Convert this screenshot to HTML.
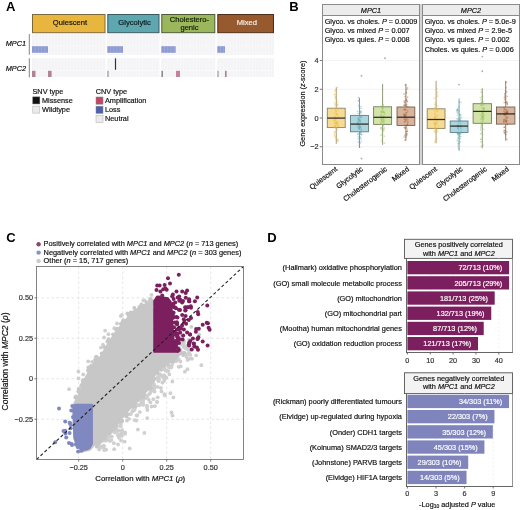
<!DOCTYPE html>
<html><head><meta charset="utf-8"><style>
html,body{margin:0;padding:0;background:#fff;width:520px;height:510px;overflow:hidden}
svg{display:block;will-change:transform}
text{font-family:"Liberation Sans",sans-serif}
</style></head><body>
<svg width="520" height="510" viewBox="0 0 520 510">
<rect width="520" height="510" fill="#fff"/>
<text x="6.0" y="11.4" font-size="13" font-weight="bold" fill="#000">A</text>
<text x="289.2" y="11.3" font-size="13" font-weight="bold" fill="#000">B</text>
<text x="6.3" y="241.6" font-size="13" font-weight="bold" fill="#000">C</text>
<text x="267.2" y="242.0" font-size="13" font-weight="bold" fill="#000">D</text>
<rect x="32.5" y="14.5" width="72.5" height="18.2" fill="#e8b63e" stroke="#7d6a3a" stroke-width="1"/>
<text x="69.95" y="25.4" font-size="7.6" text-anchor="middle" fill="#111" stroke="#111" stroke-width="0.18" style="" >Quiescent</text>
<rect x="32" y="34" width="73.5" height="11.799999999999997" fill="#f4f4f6"/>
<line x1="35.20" y1="34" x2="35.20" y2="45.8" stroke="#fafafb" stroke-width="0.6"/>
<line x1="38.40" y1="34" x2="38.40" y2="45.8" stroke="#fafafb" stroke-width="0.6"/>
<line x1="41.60" y1="34" x2="41.60" y2="45.8" stroke="#fafafb" stroke-width="0.6"/>
<line x1="44.80" y1="34" x2="44.80" y2="45.8" stroke="#fafafb" stroke-width="0.6"/>
<line x1="48.00" y1="34" x2="48.00" y2="45.8" stroke="#fafafb" stroke-width="0.6"/>
<line x1="51.20" y1="34" x2="51.20" y2="45.8" stroke="#fafafb" stroke-width="0.6"/>
<line x1="54.40" y1="34" x2="54.40" y2="45.8" stroke="#fafafb" stroke-width="0.6"/>
<line x1="57.60" y1="34" x2="57.60" y2="45.8" stroke="#fafafb" stroke-width="0.6"/>
<line x1="60.80" y1="34" x2="60.80" y2="45.8" stroke="#fafafb" stroke-width="0.6"/>
<line x1="64.00" y1="34" x2="64.00" y2="45.8" stroke="#fafafb" stroke-width="0.6"/>
<line x1="67.20" y1="34" x2="67.20" y2="45.8" stroke="#fafafb" stroke-width="0.6"/>
<line x1="70.40" y1="34" x2="70.40" y2="45.8" stroke="#fafafb" stroke-width="0.6"/>
<line x1="73.60" y1="34" x2="73.60" y2="45.8" stroke="#fafafb" stroke-width="0.6"/>
<line x1="76.80" y1="34" x2="76.80" y2="45.8" stroke="#fafafb" stroke-width="0.6"/>
<line x1="80.00" y1="34" x2="80.00" y2="45.8" stroke="#fafafb" stroke-width="0.6"/>
<line x1="83.20" y1="34" x2="83.20" y2="45.8" stroke="#fafafb" stroke-width="0.6"/>
<line x1="86.40" y1="34" x2="86.40" y2="45.8" stroke="#fafafb" stroke-width="0.6"/>
<line x1="89.60" y1="34" x2="89.60" y2="45.8" stroke="#fafafb" stroke-width="0.6"/>
<line x1="92.80" y1="34" x2="92.80" y2="45.8" stroke="#fafafb" stroke-width="0.6"/>
<line x1="96.00" y1="34" x2="96.00" y2="45.8" stroke="#fafafb" stroke-width="0.6"/>
<line x1="99.20" y1="34" x2="99.20" y2="45.8" stroke="#fafafb" stroke-width="0.6"/>
<line x1="102.40" y1="34" x2="102.40" y2="45.8" stroke="#fafafb" stroke-width="0.6"/>
<rect x="32" y="46.2" width="73.5" height="6.599999999999994" fill="#f4f4f6"/>
<line x1="35.20" y1="46.2" x2="35.20" y2="52.8" stroke="#fafafb" stroke-width="0.6"/>
<line x1="38.40" y1="46.2" x2="38.40" y2="52.8" stroke="#fafafb" stroke-width="0.6"/>
<line x1="41.60" y1="46.2" x2="41.60" y2="52.8" stroke="#fafafb" stroke-width="0.6"/>
<line x1="44.80" y1="46.2" x2="44.80" y2="52.8" stroke="#fafafb" stroke-width="0.6"/>
<line x1="48.00" y1="46.2" x2="48.00" y2="52.8" stroke="#fafafb" stroke-width="0.6"/>
<line x1="51.20" y1="46.2" x2="51.20" y2="52.8" stroke="#fafafb" stroke-width="0.6"/>
<line x1="54.40" y1="46.2" x2="54.40" y2="52.8" stroke="#fafafb" stroke-width="0.6"/>
<line x1="57.60" y1="46.2" x2="57.60" y2="52.8" stroke="#fafafb" stroke-width="0.6"/>
<line x1="60.80" y1="46.2" x2="60.80" y2="52.8" stroke="#fafafb" stroke-width="0.6"/>
<line x1="64.00" y1="46.2" x2="64.00" y2="52.8" stroke="#fafafb" stroke-width="0.6"/>
<line x1="67.20" y1="46.2" x2="67.20" y2="52.8" stroke="#fafafb" stroke-width="0.6"/>
<line x1="70.40" y1="46.2" x2="70.40" y2="52.8" stroke="#fafafb" stroke-width="0.6"/>
<line x1="73.60" y1="46.2" x2="73.60" y2="52.8" stroke="#fafafb" stroke-width="0.6"/>
<line x1="76.80" y1="46.2" x2="76.80" y2="52.8" stroke="#fafafb" stroke-width="0.6"/>
<line x1="80.00" y1="46.2" x2="80.00" y2="52.8" stroke="#fafafb" stroke-width="0.6"/>
<line x1="83.20" y1="46.2" x2="83.20" y2="52.8" stroke="#fafafb" stroke-width="0.6"/>
<line x1="86.40" y1="46.2" x2="86.40" y2="52.8" stroke="#fafafb" stroke-width="0.6"/>
<line x1="89.60" y1="46.2" x2="89.60" y2="52.8" stroke="#fafafb" stroke-width="0.6"/>
<line x1="92.80" y1="46.2" x2="92.80" y2="52.8" stroke="#fafafb" stroke-width="0.6"/>
<line x1="96.00" y1="46.2" x2="96.00" y2="52.8" stroke="#fafafb" stroke-width="0.6"/>
<line x1="99.20" y1="46.2" x2="99.20" y2="52.8" stroke="#fafafb" stroke-width="0.6"/>
<line x1="102.40" y1="46.2" x2="102.40" y2="52.8" stroke="#fafafb" stroke-width="0.6"/>
<rect x="32" y="53.2" width="73.5" height="1.7999999999999972" fill="#f4f4f6"/>
<line x1="35.20" y1="53.2" x2="35.20" y2="55" stroke="#fafafb" stroke-width="0.6"/>
<line x1="38.40" y1="53.2" x2="38.40" y2="55" stroke="#fafafb" stroke-width="0.6"/>
<line x1="41.60" y1="53.2" x2="41.60" y2="55" stroke="#fafafb" stroke-width="0.6"/>
<line x1="44.80" y1="53.2" x2="44.80" y2="55" stroke="#fafafb" stroke-width="0.6"/>
<line x1="48.00" y1="53.2" x2="48.00" y2="55" stroke="#fafafb" stroke-width="0.6"/>
<line x1="51.20" y1="53.2" x2="51.20" y2="55" stroke="#fafafb" stroke-width="0.6"/>
<line x1="54.40" y1="53.2" x2="54.40" y2="55" stroke="#fafafb" stroke-width="0.6"/>
<line x1="57.60" y1="53.2" x2="57.60" y2="55" stroke="#fafafb" stroke-width="0.6"/>
<line x1="60.80" y1="53.2" x2="60.80" y2="55" stroke="#fafafb" stroke-width="0.6"/>
<line x1="64.00" y1="53.2" x2="64.00" y2="55" stroke="#fafafb" stroke-width="0.6"/>
<line x1="67.20" y1="53.2" x2="67.20" y2="55" stroke="#fafafb" stroke-width="0.6"/>
<line x1="70.40" y1="53.2" x2="70.40" y2="55" stroke="#fafafb" stroke-width="0.6"/>
<line x1="73.60" y1="53.2" x2="73.60" y2="55" stroke="#fafafb" stroke-width="0.6"/>
<line x1="76.80" y1="53.2" x2="76.80" y2="55" stroke="#fafafb" stroke-width="0.6"/>
<line x1="80.00" y1="53.2" x2="80.00" y2="55" stroke="#fafafb" stroke-width="0.6"/>
<line x1="83.20" y1="53.2" x2="83.20" y2="55" stroke="#fafafb" stroke-width="0.6"/>
<line x1="86.40" y1="53.2" x2="86.40" y2="55" stroke="#fafafb" stroke-width="0.6"/>
<line x1="89.60" y1="53.2" x2="89.60" y2="55" stroke="#fafafb" stroke-width="0.6"/>
<line x1="92.80" y1="53.2" x2="92.80" y2="55" stroke="#fafafb" stroke-width="0.6"/>
<line x1="96.00" y1="53.2" x2="96.00" y2="55" stroke="#fafafb" stroke-width="0.6"/>
<line x1="99.20" y1="53.2" x2="99.20" y2="55" stroke="#fafafb" stroke-width="0.6"/>
<line x1="102.40" y1="53.2" x2="102.40" y2="55" stroke="#fafafb" stroke-width="0.6"/>
<rect x="32" y="58.2" width="73.5" height="12.200000000000003" fill="#f4f4f6"/>
<line x1="35.20" y1="58.2" x2="35.20" y2="70.4" stroke="#fafafb" stroke-width="0.6"/>
<line x1="38.40" y1="58.2" x2="38.40" y2="70.4" stroke="#fafafb" stroke-width="0.6"/>
<line x1="41.60" y1="58.2" x2="41.60" y2="70.4" stroke="#fafafb" stroke-width="0.6"/>
<line x1="44.80" y1="58.2" x2="44.80" y2="70.4" stroke="#fafafb" stroke-width="0.6"/>
<line x1="48.00" y1="58.2" x2="48.00" y2="70.4" stroke="#fafafb" stroke-width="0.6"/>
<line x1="51.20" y1="58.2" x2="51.20" y2="70.4" stroke="#fafafb" stroke-width="0.6"/>
<line x1="54.40" y1="58.2" x2="54.40" y2="70.4" stroke="#fafafb" stroke-width="0.6"/>
<line x1="57.60" y1="58.2" x2="57.60" y2="70.4" stroke="#fafafb" stroke-width="0.6"/>
<line x1="60.80" y1="58.2" x2="60.80" y2="70.4" stroke="#fafafb" stroke-width="0.6"/>
<line x1="64.00" y1="58.2" x2="64.00" y2="70.4" stroke="#fafafb" stroke-width="0.6"/>
<line x1="67.20" y1="58.2" x2="67.20" y2="70.4" stroke="#fafafb" stroke-width="0.6"/>
<line x1="70.40" y1="58.2" x2="70.40" y2="70.4" stroke="#fafafb" stroke-width="0.6"/>
<line x1="73.60" y1="58.2" x2="73.60" y2="70.4" stroke="#fafafb" stroke-width="0.6"/>
<line x1="76.80" y1="58.2" x2="76.80" y2="70.4" stroke="#fafafb" stroke-width="0.6"/>
<line x1="80.00" y1="58.2" x2="80.00" y2="70.4" stroke="#fafafb" stroke-width="0.6"/>
<line x1="83.20" y1="58.2" x2="83.20" y2="70.4" stroke="#fafafb" stroke-width="0.6"/>
<line x1="86.40" y1="58.2" x2="86.40" y2="70.4" stroke="#fafafb" stroke-width="0.6"/>
<line x1="89.60" y1="58.2" x2="89.60" y2="70.4" stroke="#fafafb" stroke-width="0.6"/>
<line x1="92.80" y1="58.2" x2="92.80" y2="70.4" stroke="#fafafb" stroke-width="0.6"/>
<line x1="96.00" y1="58.2" x2="96.00" y2="70.4" stroke="#fafafb" stroke-width="0.6"/>
<line x1="99.20" y1="58.2" x2="99.20" y2="70.4" stroke="#fafafb" stroke-width="0.6"/>
<line x1="102.40" y1="58.2" x2="102.40" y2="70.4" stroke="#fafafb" stroke-width="0.6"/>
<rect x="32" y="70.8" width="73.5" height="6.200000000000003" fill="#f4f4f6"/>
<line x1="35.20" y1="70.8" x2="35.20" y2="77" stroke="#fafafb" stroke-width="0.6"/>
<line x1="38.40" y1="70.8" x2="38.40" y2="77" stroke="#fafafb" stroke-width="0.6"/>
<line x1="41.60" y1="70.8" x2="41.60" y2="77" stroke="#fafafb" stroke-width="0.6"/>
<line x1="44.80" y1="70.8" x2="44.80" y2="77" stroke="#fafafb" stroke-width="0.6"/>
<line x1="48.00" y1="70.8" x2="48.00" y2="77" stroke="#fafafb" stroke-width="0.6"/>
<line x1="51.20" y1="70.8" x2="51.20" y2="77" stroke="#fafafb" stroke-width="0.6"/>
<line x1="54.40" y1="70.8" x2="54.40" y2="77" stroke="#fafafb" stroke-width="0.6"/>
<line x1="57.60" y1="70.8" x2="57.60" y2="77" stroke="#fafafb" stroke-width="0.6"/>
<line x1="60.80" y1="70.8" x2="60.80" y2="77" stroke="#fafafb" stroke-width="0.6"/>
<line x1="64.00" y1="70.8" x2="64.00" y2="77" stroke="#fafafb" stroke-width="0.6"/>
<line x1="67.20" y1="70.8" x2="67.20" y2="77" stroke="#fafafb" stroke-width="0.6"/>
<line x1="70.40" y1="70.8" x2="70.40" y2="77" stroke="#fafafb" stroke-width="0.6"/>
<line x1="73.60" y1="70.8" x2="73.60" y2="77" stroke="#fafafb" stroke-width="0.6"/>
<line x1="76.80" y1="70.8" x2="76.80" y2="77" stroke="#fafafb" stroke-width="0.6"/>
<line x1="80.00" y1="70.8" x2="80.00" y2="77" stroke="#fafafb" stroke-width="0.6"/>
<line x1="83.20" y1="70.8" x2="83.20" y2="77" stroke="#fafafb" stroke-width="0.6"/>
<line x1="86.40" y1="70.8" x2="86.40" y2="77" stroke="#fafafb" stroke-width="0.6"/>
<line x1="89.60" y1="70.8" x2="89.60" y2="77" stroke="#fafafb" stroke-width="0.6"/>
<line x1="92.80" y1="70.8" x2="92.80" y2="77" stroke="#fafafb" stroke-width="0.6"/>
<line x1="96.00" y1="70.8" x2="96.00" y2="77" stroke="#fafafb" stroke-width="0.6"/>
<line x1="99.20" y1="70.8" x2="99.20" y2="77" stroke="#fafafb" stroke-width="0.6"/>
<line x1="102.40" y1="70.8" x2="102.40" y2="77" stroke="#fafafb" stroke-width="0.6"/>
<rect x="107.8" y="14.5" width="51.2" height="18.2" fill="#5ea6b0" stroke="#3a5a60" stroke-width="1"/>
<text x="134.6" y="25.4" font-size="7.6" text-anchor="middle" fill="#0a1a1a" stroke="#0a1a1a" stroke-width="0.18" style="" >Glycolytic</text>
<rect x="107.3" y="34" width="52.2" height="11.799999999999997" fill="#f4f4f6"/>
<line x1="110.50" y1="34" x2="110.50" y2="45.8" stroke="#fafafb" stroke-width="0.6"/>
<line x1="113.70" y1="34" x2="113.70" y2="45.8" stroke="#fafafb" stroke-width="0.6"/>
<line x1="116.90" y1="34" x2="116.90" y2="45.8" stroke="#fafafb" stroke-width="0.6"/>
<line x1="120.10" y1="34" x2="120.10" y2="45.8" stroke="#fafafb" stroke-width="0.6"/>
<line x1="123.30" y1="34" x2="123.30" y2="45.8" stroke="#fafafb" stroke-width="0.6"/>
<line x1="126.50" y1="34" x2="126.50" y2="45.8" stroke="#fafafb" stroke-width="0.6"/>
<line x1="129.70" y1="34" x2="129.70" y2="45.8" stroke="#fafafb" stroke-width="0.6"/>
<line x1="132.90" y1="34" x2="132.90" y2="45.8" stroke="#fafafb" stroke-width="0.6"/>
<line x1="136.10" y1="34" x2="136.10" y2="45.8" stroke="#fafafb" stroke-width="0.6"/>
<line x1="139.30" y1="34" x2="139.30" y2="45.8" stroke="#fafafb" stroke-width="0.6"/>
<line x1="142.50" y1="34" x2="142.50" y2="45.8" stroke="#fafafb" stroke-width="0.6"/>
<line x1="145.70" y1="34" x2="145.70" y2="45.8" stroke="#fafafb" stroke-width="0.6"/>
<line x1="148.90" y1="34" x2="148.90" y2="45.8" stroke="#fafafb" stroke-width="0.6"/>
<line x1="152.10" y1="34" x2="152.10" y2="45.8" stroke="#fafafb" stroke-width="0.6"/>
<line x1="155.30" y1="34" x2="155.30" y2="45.8" stroke="#fafafb" stroke-width="0.6"/>
<line x1="158.50" y1="34" x2="158.50" y2="45.8" stroke="#fafafb" stroke-width="0.6"/>
<rect x="107.3" y="46.2" width="52.2" height="6.599999999999994" fill="#f4f4f6"/>
<line x1="110.50" y1="46.2" x2="110.50" y2="52.8" stroke="#fafafb" stroke-width="0.6"/>
<line x1="113.70" y1="46.2" x2="113.70" y2="52.8" stroke="#fafafb" stroke-width="0.6"/>
<line x1="116.90" y1="46.2" x2="116.90" y2="52.8" stroke="#fafafb" stroke-width="0.6"/>
<line x1="120.10" y1="46.2" x2="120.10" y2="52.8" stroke="#fafafb" stroke-width="0.6"/>
<line x1="123.30" y1="46.2" x2="123.30" y2="52.8" stroke="#fafafb" stroke-width="0.6"/>
<line x1="126.50" y1="46.2" x2="126.50" y2="52.8" stroke="#fafafb" stroke-width="0.6"/>
<line x1="129.70" y1="46.2" x2="129.70" y2="52.8" stroke="#fafafb" stroke-width="0.6"/>
<line x1="132.90" y1="46.2" x2="132.90" y2="52.8" stroke="#fafafb" stroke-width="0.6"/>
<line x1="136.10" y1="46.2" x2="136.10" y2="52.8" stroke="#fafafb" stroke-width="0.6"/>
<line x1="139.30" y1="46.2" x2="139.30" y2="52.8" stroke="#fafafb" stroke-width="0.6"/>
<line x1="142.50" y1="46.2" x2="142.50" y2="52.8" stroke="#fafafb" stroke-width="0.6"/>
<line x1="145.70" y1="46.2" x2="145.70" y2="52.8" stroke="#fafafb" stroke-width="0.6"/>
<line x1="148.90" y1="46.2" x2="148.90" y2="52.8" stroke="#fafafb" stroke-width="0.6"/>
<line x1="152.10" y1="46.2" x2="152.10" y2="52.8" stroke="#fafafb" stroke-width="0.6"/>
<line x1="155.30" y1="46.2" x2="155.30" y2="52.8" stroke="#fafafb" stroke-width="0.6"/>
<line x1="158.50" y1="46.2" x2="158.50" y2="52.8" stroke="#fafafb" stroke-width="0.6"/>
<rect x="107.3" y="53.2" width="52.2" height="1.7999999999999972" fill="#f4f4f6"/>
<line x1="110.50" y1="53.2" x2="110.50" y2="55" stroke="#fafafb" stroke-width="0.6"/>
<line x1="113.70" y1="53.2" x2="113.70" y2="55" stroke="#fafafb" stroke-width="0.6"/>
<line x1="116.90" y1="53.2" x2="116.90" y2="55" stroke="#fafafb" stroke-width="0.6"/>
<line x1="120.10" y1="53.2" x2="120.10" y2="55" stroke="#fafafb" stroke-width="0.6"/>
<line x1="123.30" y1="53.2" x2="123.30" y2="55" stroke="#fafafb" stroke-width="0.6"/>
<line x1="126.50" y1="53.2" x2="126.50" y2="55" stroke="#fafafb" stroke-width="0.6"/>
<line x1="129.70" y1="53.2" x2="129.70" y2="55" stroke="#fafafb" stroke-width="0.6"/>
<line x1="132.90" y1="53.2" x2="132.90" y2="55" stroke="#fafafb" stroke-width="0.6"/>
<line x1="136.10" y1="53.2" x2="136.10" y2="55" stroke="#fafafb" stroke-width="0.6"/>
<line x1="139.30" y1="53.2" x2="139.30" y2="55" stroke="#fafafb" stroke-width="0.6"/>
<line x1="142.50" y1="53.2" x2="142.50" y2="55" stroke="#fafafb" stroke-width="0.6"/>
<line x1="145.70" y1="53.2" x2="145.70" y2="55" stroke="#fafafb" stroke-width="0.6"/>
<line x1="148.90" y1="53.2" x2="148.90" y2="55" stroke="#fafafb" stroke-width="0.6"/>
<line x1="152.10" y1="53.2" x2="152.10" y2="55" stroke="#fafafb" stroke-width="0.6"/>
<line x1="155.30" y1="53.2" x2="155.30" y2="55" stroke="#fafafb" stroke-width="0.6"/>
<line x1="158.50" y1="53.2" x2="158.50" y2="55" stroke="#fafafb" stroke-width="0.6"/>
<rect x="107.3" y="58.2" width="52.2" height="12.200000000000003" fill="#f4f4f6"/>
<line x1="110.50" y1="58.2" x2="110.50" y2="70.4" stroke="#fafafb" stroke-width="0.6"/>
<line x1="113.70" y1="58.2" x2="113.70" y2="70.4" stroke="#fafafb" stroke-width="0.6"/>
<line x1="116.90" y1="58.2" x2="116.90" y2="70.4" stroke="#fafafb" stroke-width="0.6"/>
<line x1="120.10" y1="58.2" x2="120.10" y2="70.4" stroke="#fafafb" stroke-width="0.6"/>
<line x1="123.30" y1="58.2" x2="123.30" y2="70.4" stroke="#fafafb" stroke-width="0.6"/>
<line x1="126.50" y1="58.2" x2="126.50" y2="70.4" stroke="#fafafb" stroke-width="0.6"/>
<line x1="129.70" y1="58.2" x2="129.70" y2="70.4" stroke="#fafafb" stroke-width="0.6"/>
<line x1="132.90" y1="58.2" x2="132.90" y2="70.4" stroke="#fafafb" stroke-width="0.6"/>
<line x1="136.10" y1="58.2" x2="136.10" y2="70.4" stroke="#fafafb" stroke-width="0.6"/>
<line x1="139.30" y1="58.2" x2="139.30" y2="70.4" stroke="#fafafb" stroke-width="0.6"/>
<line x1="142.50" y1="58.2" x2="142.50" y2="70.4" stroke="#fafafb" stroke-width="0.6"/>
<line x1="145.70" y1="58.2" x2="145.70" y2="70.4" stroke="#fafafb" stroke-width="0.6"/>
<line x1="148.90" y1="58.2" x2="148.90" y2="70.4" stroke="#fafafb" stroke-width="0.6"/>
<line x1="152.10" y1="58.2" x2="152.10" y2="70.4" stroke="#fafafb" stroke-width="0.6"/>
<line x1="155.30" y1="58.2" x2="155.30" y2="70.4" stroke="#fafafb" stroke-width="0.6"/>
<line x1="158.50" y1="58.2" x2="158.50" y2="70.4" stroke="#fafafb" stroke-width="0.6"/>
<rect x="107.3" y="70.8" width="52.2" height="6.200000000000003" fill="#f4f4f6"/>
<line x1="110.50" y1="70.8" x2="110.50" y2="77" stroke="#fafafb" stroke-width="0.6"/>
<line x1="113.70" y1="70.8" x2="113.70" y2="77" stroke="#fafafb" stroke-width="0.6"/>
<line x1="116.90" y1="70.8" x2="116.90" y2="77" stroke="#fafafb" stroke-width="0.6"/>
<line x1="120.10" y1="70.8" x2="120.10" y2="77" stroke="#fafafb" stroke-width="0.6"/>
<line x1="123.30" y1="70.8" x2="123.30" y2="77" stroke="#fafafb" stroke-width="0.6"/>
<line x1="126.50" y1="70.8" x2="126.50" y2="77" stroke="#fafafb" stroke-width="0.6"/>
<line x1="129.70" y1="70.8" x2="129.70" y2="77" stroke="#fafafb" stroke-width="0.6"/>
<line x1="132.90" y1="70.8" x2="132.90" y2="77" stroke="#fafafb" stroke-width="0.6"/>
<line x1="136.10" y1="70.8" x2="136.10" y2="77" stroke="#fafafb" stroke-width="0.6"/>
<line x1="139.30" y1="70.8" x2="139.30" y2="77" stroke="#fafafb" stroke-width="0.6"/>
<line x1="142.50" y1="70.8" x2="142.50" y2="77" stroke="#fafafb" stroke-width="0.6"/>
<line x1="145.70" y1="70.8" x2="145.70" y2="77" stroke="#fafafb" stroke-width="0.6"/>
<line x1="148.90" y1="70.8" x2="148.90" y2="77" stroke="#fafafb" stroke-width="0.6"/>
<line x1="152.10" y1="70.8" x2="152.10" y2="77" stroke="#fafafb" stroke-width="0.6"/>
<line x1="155.30" y1="70.8" x2="155.30" y2="77" stroke="#fafafb" stroke-width="0.6"/>
<line x1="158.50" y1="70.8" x2="158.50" y2="77" stroke="#fafafb" stroke-width="0.6"/>
<rect x="161.8" y="14.5" width="53.0" height="18.2" fill="#9ab75c" stroke="#4e5a35" stroke-width="1"/>
<text x="189.5" y="21.6" font-size="7.6" text-anchor="middle" fill="#0f1a05" stroke="#0f1a05" stroke-width="0.18" style="" >Cholestero-</text>
<text x="189.5" y="29.8" font-size="7.6" text-anchor="middle" fill="#0f1a05" stroke="#0f1a05" stroke-width="0.18" style="" >genic</text>
<rect x="161.3" y="34" width="54.0" height="11.799999999999997" fill="#f4f4f6"/>
<line x1="164.50" y1="34" x2="164.50" y2="45.8" stroke="#fafafb" stroke-width="0.6"/>
<line x1="167.70" y1="34" x2="167.70" y2="45.8" stroke="#fafafb" stroke-width="0.6"/>
<line x1="170.90" y1="34" x2="170.90" y2="45.8" stroke="#fafafb" stroke-width="0.6"/>
<line x1="174.10" y1="34" x2="174.10" y2="45.8" stroke="#fafafb" stroke-width="0.6"/>
<line x1="177.30" y1="34" x2="177.30" y2="45.8" stroke="#fafafb" stroke-width="0.6"/>
<line x1="180.50" y1="34" x2="180.50" y2="45.8" stroke="#fafafb" stroke-width="0.6"/>
<line x1="183.70" y1="34" x2="183.70" y2="45.8" stroke="#fafafb" stroke-width="0.6"/>
<line x1="186.90" y1="34" x2="186.90" y2="45.8" stroke="#fafafb" stroke-width="0.6"/>
<line x1="190.10" y1="34" x2="190.10" y2="45.8" stroke="#fafafb" stroke-width="0.6"/>
<line x1="193.30" y1="34" x2="193.30" y2="45.8" stroke="#fafafb" stroke-width="0.6"/>
<line x1="196.50" y1="34" x2="196.50" y2="45.8" stroke="#fafafb" stroke-width="0.6"/>
<line x1="199.70" y1="34" x2="199.70" y2="45.8" stroke="#fafafb" stroke-width="0.6"/>
<line x1="202.90" y1="34" x2="202.90" y2="45.8" stroke="#fafafb" stroke-width="0.6"/>
<line x1="206.10" y1="34" x2="206.10" y2="45.8" stroke="#fafafb" stroke-width="0.6"/>
<line x1="209.30" y1="34" x2="209.30" y2="45.8" stroke="#fafafb" stroke-width="0.6"/>
<line x1="212.50" y1="34" x2="212.50" y2="45.8" stroke="#fafafb" stroke-width="0.6"/>
<rect x="161.3" y="46.2" width="54.0" height="6.599999999999994" fill="#f4f4f6"/>
<line x1="164.50" y1="46.2" x2="164.50" y2="52.8" stroke="#fafafb" stroke-width="0.6"/>
<line x1="167.70" y1="46.2" x2="167.70" y2="52.8" stroke="#fafafb" stroke-width="0.6"/>
<line x1="170.90" y1="46.2" x2="170.90" y2="52.8" stroke="#fafafb" stroke-width="0.6"/>
<line x1="174.10" y1="46.2" x2="174.10" y2="52.8" stroke="#fafafb" stroke-width="0.6"/>
<line x1="177.30" y1="46.2" x2="177.30" y2="52.8" stroke="#fafafb" stroke-width="0.6"/>
<line x1="180.50" y1="46.2" x2="180.50" y2="52.8" stroke="#fafafb" stroke-width="0.6"/>
<line x1="183.70" y1="46.2" x2="183.70" y2="52.8" stroke="#fafafb" stroke-width="0.6"/>
<line x1="186.90" y1="46.2" x2="186.90" y2="52.8" stroke="#fafafb" stroke-width="0.6"/>
<line x1="190.10" y1="46.2" x2="190.10" y2="52.8" stroke="#fafafb" stroke-width="0.6"/>
<line x1="193.30" y1="46.2" x2="193.30" y2="52.8" stroke="#fafafb" stroke-width="0.6"/>
<line x1="196.50" y1="46.2" x2="196.50" y2="52.8" stroke="#fafafb" stroke-width="0.6"/>
<line x1="199.70" y1="46.2" x2="199.70" y2="52.8" stroke="#fafafb" stroke-width="0.6"/>
<line x1="202.90" y1="46.2" x2="202.90" y2="52.8" stroke="#fafafb" stroke-width="0.6"/>
<line x1="206.10" y1="46.2" x2="206.10" y2="52.8" stroke="#fafafb" stroke-width="0.6"/>
<line x1="209.30" y1="46.2" x2="209.30" y2="52.8" stroke="#fafafb" stroke-width="0.6"/>
<line x1="212.50" y1="46.2" x2="212.50" y2="52.8" stroke="#fafafb" stroke-width="0.6"/>
<rect x="161.3" y="53.2" width="54.0" height="1.7999999999999972" fill="#f4f4f6"/>
<line x1="164.50" y1="53.2" x2="164.50" y2="55" stroke="#fafafb" stroke-width="0.6"/>
<line x1="167.70" y1="53.2" x2="167.70" y2="55" stroke="#fafafb" stroke-width="0.6"/>
<line x1="170.90" y1="53.2" x2="170.90" y2="55" stroke="#fafafb" stroke-width="0.6"/>
<line x1="174.10" y1="53.2" x2="174.10" y2="55" stroke="#fafafb" stroke-width="0.6"/>
<line x1="177.30" y1="53.2" x2="177.30" y2="55" stroke="#fafafb" stroke-width="0.6"/>
<line x1="180.50" y1="53.2" x2="180.50" y2="55" stroke="#fafafb" stroke-width="0.6"/>
<line x1="183.70" y1="53.2" x2="183.70" y2="55" stroke="#fafafb" stroke-width="0.6"/>
<line x1="186.90" y1="53.2" x2="186.90" y2="55" stroke="#fafafb" stroke-width="0.6"/>
<line x1="190.10" y1="53.2" x2="190.10" y2="55" stroke="#fafafb" stroke-width="0.6"/>
<line x1="193.30" y1="53.2" x2="193.30" y2="55" stroke="#fafafb" stroke-width="0.6"/>
<line x1="196.50" y1="53.2" x2="196.50" y2="55" stroke="#fafafb" stroke-width="0.6"/>
<line x1="199.70" y1="53.2" x2="199.70" y2="55" stroke="#fafafb" stroke-width="0.6"/>
<line x1="202.90" y1="53.2" x2="202.90" y2="55" stroke="#fafafb" stroke-width="0.6"/>
<line x1="206.10" y1="53.2" x2="206.10" y2="55" stroke="#fafafb" stroke-width="0.6"/>
<line x1="209.30" y1="53.2" x2="209.30" y2="55" stroke="#fafafb" stroke-width="0.6"/>
<line x1="212.50" y1="53.2" x2="212.50" y2="55" stroke="#fafafb" stroke-width="0.6"/>
<rect x="161.3" y="58.2" width="54.0" height="12.200000000000003" fill="#f4f4f6"/>
<line x1="164.50" y1="58.2" x2="164.50" y2="70.4" stroke="#fafafb" stroke-width="0.6"/>
<line x1="167.70" y1="58.2" x2="167.70" y2="70.4" stroke="#fafafb" stroke-width="0.6"/>
<line x1="170.90" y1="58.2" x2="170.90" y2="70.4" stroke="#fafafb" stroke-width="0.6"/>
<line x1="174.10" y1="58.2" x2="174.10" y2="70.4" stroke="#fafafb" stroke-width="0.6"/>
<line x1="177.30" y1="58.2" x2="177.30" y2="70.4" stroke="#fafafb" stroke-width="0.6"/>
<line x1="180.50" y1="58.2" x2="180.50" y2="70.4" stroke="#fafafb" stroke-width="0.6"/>
<line x1="183.70" y1="58.2" x2="183.70" y2="70.4" stroke="#fafafb" stroke-width="0.6"/>
<line x1="186.90" y1="58.2" x2="186.90" y2="70.4" stroke="#fafafb" stroke-width="0.6"/>
<line x1="190.10" y1="58.2" x2="190.10" y2="70.4" stroke="#fafafb" stroke-width="0.6"/>
<line x1="193.30" y1="58.2" x2="193.30" y2="70.4" stroke="#fafafb" stroke-width="0.6"/>
<line x1="196.50" y1="58.2" x2="196.50" y2="70.4" stroke="#fafafb" stroke-width="0.6"/>
<line x1="199.70" y1="58.2" x2="199.70" y2="70.4" stroke="#fafafb" stroke-width="0.6"/>
<line x1="202.90" y1="58.2" x2="202.90" y2="70.4" stroke="#fafafb" stroke-width="0.6"/>
<line x1="206.10" y1="58.2" x2="206.10" y2="70.4" stroke="#fafafb" stroke-width="0.6"/>
<line x1="209.30" y1="58.2" x2="209.30" y2="70.4" stroke="#fafafb" stroke-width="0.6"/>
<line x1="212.50" y1="58.2" x2="212.50" y2="70.4" stroke="#fafafb" stroke-width="0.6"/>
<rect x="161.3" y="70.8" width="54.0" height="6.200000000000003" fill="#f4f4f6"/>
<line x1="164.50" y1="70.8" x2="164.50" y2="77" stroke="#fafafb" stroke-width="0.6"/>
<line x1="167.70" y1="70.8" x2="167.70" y2="77" stroke="#fafafb" stroke-width="0.6"/>
<line x1="170.90" y1="70.8" x2="170.90" y2="77" stroke="#fafafb" stroke-width="0.6"/>
<line x1="174.10" y1="70.8" x2="174.10" y2="77" stroke="#fafafb" stroke-width="0.6"/>
<line x1="177.30" y1="70.8" x2="177.30" y2="77" stroke="#fafafb" stroke-width="0.6"/>
<line x1="180.50" y1="70.8" x2="180.50" y2="77" stroke="#fafafb" stroke-width="0.6"/>
<line x1="183.70" y1="70.8" x2="183.70" y2="77" stroke="#fafafb" stroke-width="0.6"/>
<line x1="186.90" y1="70.8" x2="186.90" y2="77" stroke="#fafafb" stroke-width="0.6"/>
<line x1="190.10" y1="70.8" x2="190.10" y2="77" stroke="#fafafb" stroke-width="0.6"/>
<line x1="193.30" y1="70.8" x2="193.30" y2="77" stroke="#fafafb" stroke-width="0.6"/>
<line x1="196.50" y1="70.8" x2="196.50" y2="77" stroke="#fafafb" stroke-width="0.6"/>
<line x1="199.70" y1="70.8" x2="199.70" y2="77" stroke="#fafafb" stroke-width="0.6"/>
<line x1="202.90" y1="70.8" x2="202.90" y2="77" stroke="#fafafb" stroke-width="0.6"/>
<line x1="206.10" y1="70.8" x2="206.10" y2="77" stroke="#fafafb" stroke-width="0.6"/>
<line x1="209.30" y1="70.8" x2="209.30" y2="77" stroke="#fafafb" stroke-width="0.6"/>
<line x1="212.50" y1="70.8" x2="212.50" y2="77" stroke="#fafafb" stroke-width="0.6"/>
<rect x="217.8" y="14.5" width="55.69999999999999" height="18.2" fill="#975a2e" stroke="#4f2e18" stroke-width="1"/>
<text x="246.85" y="25.4" font-size="7.6" text-anchor="middle" fill="#f4eee8" stroke="#f4eee8" stroke-width="0.18" style="" >Mixed</text>
<rect x="217.3" y="34" width="56.69999999999999" height="11.799999999999997" fill="#f4f4f6"/>
<line x1="220.50" y1="34" x2="220.50" y2="45.8" stroke="#fafafb" stroke-width="0.6"/>
<line x1="223.70" y1="34" x2="223.70" y2="45.8" stroke="#fafafb" stroke-width="0.6"/>
<line x1="226.90" y1="34" x2="226.90" y2="45.8" stroke="#fafafb" stroke-width="0.6"/>
<line x1="230.10" y1="34" x2="230.10" y2="45.8" stroke="#fafafb" stroke-width="0.6"/>
<line x1="233.30" y1="34" x2="233.30" y2="45.8" stroke="#fafafb" stroke-width="0.6"/>
<line x1="236.50" y1="34" x2="236.50" y2="45.8" stroke="#fafafb" stroke-width="0.6"/>
<line x1="239.70" y1="34" x2="239.70" y2="45.8" stroke="#fafafb" stroke-width="0.6"/>
<line x1="242.90" y1="34" x2="242.90" y2="45.8" stroke="#fafafb" stroke-width="0.6"/>
<line x1="246.10" y1="34" x2="246.10" y2="45.8" stroke="#fafafb" stroke-width="0.6"/>
<line x1="249.30" y1="34" x2="249.30" y2="45.8" stroke="#fafafb" stroke-width="0.6"/>
<line x1="252.50" y1="34" x2="252.50" y2="45.8" stroke="#fafafb" stroke-width="0.6"/>
<line x1="255.70" y1="34" x2="255.70" y2="45.8" stroke="#fafafb" stroke-width="0.6"/>
<line x1="258.90" y1="34" x2="258.90" y2="45.8" stroke="#fafafb" stroke-width="0.6"/>
<line x1="262.10" y1="34" x2="262.10" y2="45.8" stroke="#fafafb" stroke-width="0.6"/>
<line x1="265.30" y1="34" x2="265.30" y2="45.8" stroke="#fafafb" stroke-width="0.6"/>
<line x1="268.50" y1="34" x2="268.50" y2="45.8" stroke="#fafafb" stroke-width="0.6"/>
<line x1="271.70" y1="34" x2="271.70" y2="45.8" stroke="#fafafb" stroke-width="0.6"/>
<rect x="217.3" y="46.2" width="56.69999999999999" height="6.599999999999994" fill="#f4f4f6"/>
<line x1="220.50" y1="46.2" x2="220.50" y2="52.8" stroke="#fafafb" stroke-width="0.6"/>
<line x1="223.70" y1="46.2" x2="223.70" y2="52.8" stroke="#fafafb" stroke-width="0.6"/>
<line x1="226.90" y1="46.2" x2="226.90" y2="52.8" stroke="#fafafb" stroke-width="0.6"/>
<line x1="230.10" y1="46.2" x2="230.10" y2="52.8" stroke="#fafafb" stroke-width="0.6"/>
<line x1="233.30" y1="46.2" x2="233.30" y2="52.8" stroke="#fafafb" stroke-width="0.6"/>
<line x1="236.50" y1="46.2" x2="236.50" y2="52.8" stroke="#fafafb" stroke-width="0.6"/>
<line x1="239.70" y1="46.2" x2="239.70" y2="52.8" stroke="#fafafb" stroke-width="0.6"/>
<line x1="242.90" y1="46.2" x2="242.90" y2="52.8" stroke="#fafafb" stroke-width="0.6"/>
<line x1="246.10" y1="46.2" x2="246.10" y2="52.8" stroke="#fafafb" stroke-width="0.6"/>
<line x1="249.30" y1="46.2" x2="249.30" y2="52.8" stroke="#fafafb" stroke-width="0.6"/>
<line x1="252.50" y1="46.2" x2="252.50" y2="52.8" stroke="#fafafb" stroke-width="0.6"/>
<line x1="255.70" y1="46.2" x2="255.70" y2="52.8" stroke="#fafafb" stroke-width="0.6"/>
<line x1="258.90" y1="46.2" x2="258.90" y2="52.8" stroke="#fafafb" stroke-width="0.6"/>
<line x1="262.10" y1="46.2" x2="262.10" y2="52.8" stroke="#fafafb" stroke-width="0.6"/>
<line x1="265.30" y1="46.2" x2="265.30" y2="52.8" stroke="#fafafb" stroke-width="0.6"/>
<line x1="268.50" y1="46.2" x2="268.50" y2="52.8" stroke="#fafafb" stroke-width="0.6"/>
<line x1="271.70" y1="46.2" x2="271.70" y2="52.8" stroke="#fafafb" stroke-width="0.6"/>
<rect x="217.3" y="53.2" width="56.69999999999999" height="1.7999999999999972" fill="#f4f4f6"/>
<line x1="220.50" y1="53.2" x2="220.50" y2="55" stroke="#fafafb" stroke-width="0.6"/>
<line x1="223.70" y1="53.2" x2="223.70" y2="55" stroke="#fafafb" stroke-width="0.6"/>
<line x1="226.90" y1="53.2" x2="226.90" y2="55" stroke="#fafafb" stroke-width="0.6"/>
<line x1="230.10" y1="53.2" x2="230.10" y2="55" stroke="#fafafb" stroke-width="0.6"/>
<line x1="233.30" y1="53.2" x2="233.30" y2="55" stroke="#fafafb" stroke-width="0.6"/>
<line x1="236.50" y1="53.2" x2="236.50" y2="55" stroke="#fafafb" stroke-width="0.6"/>
<line x1="239.70" y1="53.2" x2="239.70" y2="55" stroke="#fafafb" stroke-width="0.6"/>
<line x1="242.90" y1="53.2" x2="242.90" y2="55" stroke="#fafafb" stroke-width="0.6"/>
<line x1="246.10" y1="53.2" x2="246.10" y2="55" stroke="#fafafb" stroke-width="0.6"/>
<line x1="249.30" y1="53.2" x2="249.30" y2="55" stroke="#fafafb" stroke-width="0.6"/>
<line x1="252.50" y1="53.2" x2="252.50" y2="55" stroke="#fafafb" stroke-width="0.6"/>
<line x1="255.70" y1="53.2" x2="255.70" y2="55" stroke="#fafafb" stroke-width="0.6"/>
<line x1="258.90" y1="53.2" x2="258.90" y2="55" stroke="#fafafb" stroke-width="0.6"/>
<line x1="262.10" y1="53.2" x2="262.10" y2="55" stroke="#fafafb" stroke-width="0.6"/>
<line x1="265.30" y1="53.2" x2="265.30" y2="55" stroke="#fafafb" stroke-width="0.6"/>
<line x1="268.50" y1="53.2" x2="268.50" y2="55" stroke="#fafafb" stroke-width="0.6"/>
<line x1="271.70" y1="53.2" x2="271.70" y2="55" stroke="#fafafb" stroke-width="0.6"/>
<rect x="217.3" y="58.2" width="56.69999999999999" height="12.200000000000003" fill="#f4f4f6"/>
<line x1="220.50" y1="58.2" x2="220.50" y2="70.4" stroke="#fafafb" stroke-width="0.6"/>
<line x1="223.70" y1="58.2" x2="223.70" y2="70.4" stroke="#fafafb" stroke-width="0.6"/>
<line x1="226.90" y1="58.2" x2="226.90" y2="70.4" stroke="#fafafb" stroke-width="0.6"/>
<line x1="230.10" y1="58.2" x2="230.10" y2="70.4" stroke="#fafafb" stroke-width="0.6"/>
<line x1="233.30" y1="58.2" x2="233.30" y2="70.4" stroke="#fafafb" stroke-width="0.6"/>
<line x1="236.50" y1="58.2" x2="236.50" y2="70.4" stroke="#fafafb" stroke-width="0.6"/>
<line x1="239.70" y1="58.2" x2="239.70" y2="70.4" stroke="#fafafb" stroke-width="0.6"/>
<line x1="242.90" y1="58.2" x2="242.90" y2="70.4" stroke="#fafafb" stroke-width="0.6"/>
<line x1="246.10" y1="58.2" x2="246.10" y2="70.4" stroke="#fafafb" stroke-width="0.6"/>
<line x1="249.30" y1="58.2" x2="249.30" y2="70.4" stroke="#fafafb" stroke-width="0.6"/>
<line x1="252.50" y1="58.2" x2="252.50" y2="70.4" stroke="#fafafb" stroke-width="0.6"/>
<line x1="255.70" y1="58.2" x2="255.70" y2="70.4" stroke="#fafafb" stroke-width="0.6"/>
<line x1="258.90" y1="58.2" x2="258.90" y2="70.4" stroke="#fafafb" stroke-width="0.6"/>
<line x1="262.10" y1="58.2" x2="262.10" y2="70.4" stroke="#fafafb" stroke-width="0.6"/>
<line x1="265.30" y1="58.2" x2="265.30" y2="70.4" stroke="#fafafb" stroke-width="0.6"/>
<line x1="268.50" y1="58.2" x2="268.50" y2="70.4" stroke="#fafafb" stroke-width="0.6"/>
<line x1="271.70" y1="58.2" x2="271.70" y2="70.4" stroke="#fafafb" stroke-width="0.6"/>
<rect x="217.3" y="70.8" width="56.69999999999999" height="6.200000000000003" fill="#f4f4f6"/>
<line x1="220.50" y1="70.8" x2="220.50" y2="77" stroke="#fafafb" stroke-width="0.6"/>
<line x1="223.70" y1="70.8" x2="223.70" y2="77" stroke="#fafafb" stroke-width="0.6"/>
<line x1="226.90" y1="70.8" x2="226.90" y2="77" stroke="#fafafb" stroke-width="0.6"/>
<line x1="230.10" y1="70.8" x2="230.10" y2="77" stroke="#fafafb" stroke-width="0.6"/>
<line x1="233.30" y1="70.8" x2="233.30" y2="77" stroke="#fafafb" stroke-width="0.6"/>
<line x1="236.50" y1="70.8" x2="236.50" y2="77" stroke="#fafafb" stroke-width="0.6"/>
<line x1="239.70" y1="70.8" x2="239.70" y2="77" stroke="#fafafb" stroke-width="0.6"/>
<line x1="242.90" y1="70.8" x2="242.90" y2="77" stroke="#fafafb" stroke-width="0.6"/>
<line x1="246.10" y1="70.8" x2="246.10" y2="77" stroke="#fafafb" stroke-width="0.6"/>
<line x1="249.30" y1="70.8" x2="249.30" y2="77" stroke="#fafafb" stroke-width="0.6"/>
<line x1="252.50" y1="70.8" x2="252.50" y2="77" stroke="#fafafb" stroke-width="0.6"/>
<line x1="255.70" y1="70.8" x2="255.70" y2="77" stroke="#fafafb" stroke-width="0.6"/>
<line x1="258.90" y1="70.8" x2="258.90" y2="77" stroke="#fafafb" stroke-width="0.6"/>
<line x1="262.10" y1="70.8" x2="262.10" y2="77" stroke="#fafafb" stroke-width="0.6"/>
<line x1="265.30" y1="70.8" x2="265.30" y2="77" stroke="#fafafb" stroke-width="0.6"/>
<line x1="268.50" y1="70.8" x2="268.50" y2="77" stroke="#fafafb" stroke-width="0.6"/>
<line x1="271.70" y1="70.8" x2="271.70" y2="77" stroke="#fafafb" stroke-width="0.6"/>
<rect x="32" y="46.2" width="16" height="6.6" fill="#8d9bd2"/>
<line x1="35.20" y1="46.2" x2="35.20" y2="52.8" stroke="#a9b3de" stroke-width="0.6"/>
<line x1="38.40" y1="46.2" x2="38.40" y2="52.8" stroke="#a9b3de" stroke-width="0.6"/>
<line x1="41.60" y1="46.2" x2="41.60" y2="52.8" stroke="#a9b3de" stroke-width="0.6"/>
<line x1="44.80" y1="46.2" x2="44.80" y2="52.8" stroke="#a9b3de" stroke-width="0.6"/>
<rect x="107.3" y="46.2" width="15.700000000000003" height="6.6" fill="#8d9bd2"/>
<line x1="110.50" y1="46.2" x2="110.50" y2="52.8" stroke="#a9b3de" stroke-width="0.6"/>
<line x1="113.70" y1="46.2" x2="113.70" y2="52.8" stroke="#a9b3de" stroke-width="0.6"/>
<line x1="116.90" y1="46.2" x2="116.90" y2="52.8" stroke="#a9b3de" stroke-width="0.6"/>
<line x1="120.10" y1="46.2" x2="120.10" y2="52.8" stroke="#a9b3de" stroke-width="0.6"/>
<rect x="161.3" y="46.2" width="14.399999999999977" height="6.6" fill="#8d9bd2"/>
<line x1="164.50" y1="46.2" x2="164.50" y2="52.8" stroke="#a9b3de" stroke-width="0.6"/>
<line x1="167.70" y1="46.2" x2="167.70" y2="52.8" stroke="#a9b3de" stroke-width="0.6"/>
<line x1="170.90" y1="46.2" x2="170.90" y2="52.8" stroke="#a9b3de" stroke-width="0.6"/>
<line x1="174.10" y1="46.2" x2="174.10" y2="52.8" stroke="#a9b3de" stroke-width="0.6"/>
<rect x="217.3" y="46.2" width="7.699999999999989" height="6.6" fill="#8d9bd2"/>
<line x1="220.50" y1="46.2" x2="220.50" y2="52.8" stroke="#a9b3de" stroke-width="0.6"/>
<line x1="223.70" y1="46.2" x2="223.70" y2="52.8" stroke="#a9b3de" stroke-width="0.6"/>
<rect x="32" y="70.8" width="3.5" height="6.2" fill="#b58292"/>
<rect x="48" y="70.8" width="3.6000000000000014" height="6.2" fill="#b58292"/>
<rect x="107.3" y="70.8" width="1.2999999999999972" height="6.2" fill="#a09aa0"/>
<rect x="161.4" y="70.8" width="1.5999999999999943" height="6.2" fill="#8f8a8f"/>
<rect x="176" y="70.8" width="4" height="6.2" fill="#c8809a"/>
<rect x="217.4" y="70.8" width="1.1999999999999886" height="6.2" fill="#a09aa0"/>
<rect x="225" y="70.8" width="1.5999999999999943" height="6.2" fill="#b07a90"/>
<rect x="114.9" y="58.4" width="1.2" height="11.4" fill="#333"/>
<line x1="29.3" y1="34" x2="29.3" y2="54.8" stroke="#777" stroke-width="0.9"/>
<line x1="29.3" y1="58.2" x2="29.3" y2="77.4" stroke="#777" stroke-width="0.9"/>
<text x="26" y="46.3" font-size="7.3" text-anchor="end" fill="#111" stroke="#111" stroke-width="0.18" style="font-style:italic" >MPC1</text>
<text x="26" y="70.9" font-size="7.3" text-anchor="end" fill="#111" stroke="#111" stroke-width="0.18" style="font-style:italic" >MPC2</text>
<text x="32.5" y="94.0" font-size="7.3" text-anchor="start" fill="#111" stroke="#111" stroke-width="0.18" style="" >SNV type</text>
<rect x="32.8" y="96.9" width="7" height="7" fill="#111" stroke="#555" stroke-width="0.5"/>
<text x="42" y="102.8" font-size="7.3" text-anchor="start" fill="#111" stroke="#111" stroke-width="0.18" style="" >Missense</text>
<rect x="32.8" y="106.1" width="7" height="7" fill="#ebebeb" stroke="#aaa" stroke-width="0.5"/>
<text x="42" y="112" font-size="7.3" text-anchor="start" fill="#111" stroke="#111" stroke-width="0.18" style="" >Wildtype</text>
<text x="95.8" y="94.2" font-size="7.3" text-anchor="start" fill="#111" stroke="#111" stroke-width="0.18" style="" >CNV type</text>
<rect x="96" y="97" width="7" height="7.2" fill="#c0476a" stroke="#888" stroke-width="0.5"/>
<text x="105" y="103" font-size="7.3" text-anchor="start" fill="#111" stroke="#111" stroke-width="0.18" style="" >Amplification</text>
<rect x="96" y="106.2" width="7" height="7.2" fill="#4d5fae" stroke="#888" stroke-width="0.5"/>
<text x="105" y="112.2" font-size="7.3" text-anchor="start" fill="#111" stroke="#111" stroke-width="0.18" style="" >Loss</text>
<rect x="96" y="115.4" width="7" height="7.2" fill="#ebebeb" stroke="#aaa" stroke-width="0.5"/>
<text x="105" y="121.4" font-size="7.3" text-anchor="start" fill="#111" stroke="#111" stroke-width="0.18" style="" >Neutral</text>
<rect x="322.5" y="4.5" width="97.0" height="160" fill="#fff" stroke="#8a8a8a" stroke-width="1"/>
<rect x="322.5" y="4.5" width="97.0" height="11" fill="#ececec" stroke="#8a8a8a" stroke-width="1"/>
<text x="371.0" y="13.2" font-size="7.3" text-anchor="middle" fill="#111" stroke="#111" stroke-width="0.18" style="font-style:italic" >MPC1</text>
<line x1="323.0" y1="60.52" x2="419.0" y2="60.52" stroke="#efefef" stroke-width="0.8"/>
<line x1="323.0" y1="89.26" x2="419.0" y2="89.26" stroke="#efefef" stroke-width="0.8"/>
<line x1="323.0" y1="118.00" x2="419.0" y2="118.00" stroke="#efefef" stroke-width="0.8"/>
<line x1="323.0" y1="146.74" x2="419.0" y2="146.74" stroke="#efefef" stroke-width="0.8"/>
<text x="324.7" y="23.6" font-size="7.3" text-anchor="start" fill="#111" stroke="#111" stroke-width="0.18" style="" >Glyco. vs choles. <tspan font-style="italic">P</tspan> = 0.0009</text>
<text x="324.7" y="32.900000000000006" font-size="7.3" text-anchor="start" fill="#111" stroke="#111" stroke-width="0.18" style="" >Glyco. vs mixed <tspan font-style="italic">P</tspan> = 0.007</text>
<text x="324.7" y="42.2" font-size="7.3" text-anchor="start" fill="#111" stroke="#111" stroke-width="0.18" style="" >Glyco. vs quies. <tspan font-style="italic">P</tspan> = 0.008</text>
<line x1="336.25" y1="87.3" x2="336.25" y2="143.8" stroke="#8f8262" stroke-width="0.8"/>
<rect x="327.3" y="108.2" width="17.90" height="19.40" fill="#f6db94" stroke="#8f8262" stroke-width="0.9"/>
<circle cx="336.85" cy="113.96" r="0.85" fill="#e9b93f" fill-opacity="0.4"/>
<circle cx="334.54" cy="126.37" r="0.85" fill="#e9b93f" fill-opacity="0.4"/>
<circle cx="334.48" cy="103.06" r="0.85" fill="#e9b93f" fill-opacity="0.4"/>
<circle cx="336.28" cy="114.65" r="0.85" fill="#e9b93f" fill-opacity="0.4"/>
<circle cx="334.53" cy="134.86" r="0.85" fill="#e9b93f" fill-opacity="0.4"/>
<circle cx="334.61" cy="122.12" r="0.85" fill="#e9b93f" fill-opacity="0.4"/>
<circle cx="334.75" cy="91.17" r="0.85" fill="#e9b93f" fill-opacity="0.4"/>
<circle cx="335.14" cy="131.93" r="0.85" fill="#e9b93f" fill-opacity="0.4"/>
<circle cx="336.56" cy="90.76" r="0.85" fill="#e9b93f" fill-opacity="0.4"/>
<circle cx="335.84" cy="89.91" r="0.85" fill="#e9b93f" fill-opacity="0.4"/>
<circle cx="337.68" cy="123.04" r="0.85" fill="#e9b93f" fill-opacity="0.4"/>
<circle cx="335.41" cy="117.36" r="0.85" fill="#e9b93f" fill-opacity="0.4"/>
<circle cx="335.48" cy="123.09" r="0.85" fill="#e9b93f" fill-opacity="0.4"/>
<circle cx="337.51" cy="124.47" r="0.85" fill="#e9b93f" fill-opacity="0.4"/>
<circle cx="336.81" cy="127.10" r="0.85" fill="#e9b93f" fill-opacity="0.4"/>
<circle cx="335.74" cy="137.45" r="0.85" fill="#e9b93f" fill-opacity="0.4"/>
<circle cx="334.49" cy="112.54" r="0.85" fill="#e9b93f" fill-opacity="0.4"/>
<circle cx="335.07" cy="116.38" r="0.85" fill="#e9b93f" fill-opacity="0.4"/>
<circle cx="335.51" cy="110.87" r="0.85" fill="#e9b93f" fill-opacity="0.4"/>
<circle cx="336.59" cy="102.63" r="0.85" fill="#e9b93f" fill-opacity="0.4"/>
<circle cx="337.43" cy="105.04" r="0.85" fill="#e9b93f" fill-opacity="0.4"/>
<circle cx="337.05" cy="122.06" r="0.85" fill="#e9b93f" fill-opacity="0.4"/>
<circle cx="336.35" cy="118.88" r="0.85" fill="#e9b93f" fill-opacity="0.4"/>
<circle cx="337.75" cy="139.22" r="0.85" fill="#e9b93f" fill-opacity="0.4"/>
<circle cx="338.17" cy="116.38" r="0.85" fill="#e9b93f" fill-opacity="0.4"/>
<circle cx="334.72" cy="104.89" r="0.85" fill="#e9b93f" fill-opacity="0.4"/>
<circle cx="334.86" cy="94.42" r="0.85" fill="#e9b93f" fill-opacity="0.4"/>
<circle cx="336.21" cy="131.48" r="0.85" fill="#e9b93f" fill-opacity="0.4"/>
<circle cx="337.31" cy="141.39" r="0.85" fill="#e9b93f" fill-opacity="0.4"/>
<circle cx="336.54" cy="123.96" r="0.85" fill="#e9b93f" fill-opacity="0.4"/>
<circle cx="337.03" cy="128.05" r="0.85" fill="#e9b93f" fill-opacity="0.4"/>
<circle cx="336.63" cy="108.21" r="0.85" fill="#e9b93f" fill-opacity="0.4"/>
<circle cx="337.61" cy="102.46" r="0.85" fill="#e9b93f" fill-opacity="0.4"/>
<circle cx="338.03" cy="109.51" r="0.85" fill="#e9b93f" fill-opacity="0.4"/>
<circle cx="334.49" cy="94.53" r="0.85" fill="#e9b93f" fill-opacity="0.4"/>
<circle cx="337.06" cy="121.97" r="0.85" fill="#e9b93f" fill-opacity="0.4"/>
<circle cx="337.54" cy="87.38" r="0.85" fill="#e9b93f" fill-opacity="0.4"/>
<circle cx="336.92" cy="114.66" r="0.85" fill="#e9b93f" fill-opacity="0.4"/>
<circle cx="334.34" cy="133.69" r="0.85" fill="#e9b93f" fill-opacity="0.4"/>
<circle cx="334.72" cy="108.58" r="0.85" fill="#e9b93f" fill-opacity="0.4"/>
<circle cx="334.49" cy="120.44" r="0.85" fill="#e9b93f" fill-opacity="0.4"/>
<circle cx="335.24" cy="119.07" r="0.85" fill="#e9b93f" fill-opacity="0.4"/>
<circle cx="335.81" cy="109.65" r="0.85" fill="#e9b93f" fill-opacity="0.4"/>
<circle cx="336.05" cy="122.68" r="0.85" fill="#e9b93f" fill-opacity="0.4"/>
<circle cx="336.45" cy="113.31" r="0.85" fill="#e9b93f" fill-opacity="0.4"/>
<circle cx="337.71" cy="140.33" r="0.85" fill="#e9b93f" fill-opacity="0.4"/>
<circle cx="335.36" cy="98.10" r="0.85" fill="#e9b93f" fill-opacity="0.4"/>
<circle cx="337.79" cy="104.97" r="0.85" fill="#e9b93f" fill-opacity="0.4"/>
<circle cx="338.08" cy="125.83" r="0.85" fill="#e9b93f" fill-opacity="0.4"/>
<circle cx="335.18" cy="123.97" r="0.85" fill="#e9b93f" fill-opacity="0.4"/>
<circle cx="335.18" cy="126.28" r="0.85" fill="#e9b93f" fill-opacity="0.4"/>
<circle cx="335.30" cy="96.63" r="0.85" fill="#e9b93f" fill-opacity="0.4"/>
<circle cx="334.27" cy="120.13" r="0.85" fill="#e9b93f" fill-opacity="0.4"/>
<circle cx="336.52" cy="104.55" r="0.85" fill="#e9b93f" fill-opacity="0.4"/>
<circle cx="338.06" cy="125.67" r="0.85" fill="#e9b93f" fill-opacity="0.4"/>
<circle cx="336.72" cy="110.99" r="0.85" fill="#e9b93f" fill-opacity="0.4"/>
<circle cx="336.95" cy="99.98" r="0.85" fill="#e9b93f" fill-opacity="0.4"/>
<circle cx="337.37" cy="129.63" r="0.85" fill="#e9b93f" fill-opacity="0.4"/>
<circle cx="335.82" cy="138.48" r="0.85" fill="#e9b93f" fill-opacity="0.4"/>
<circle cx="335.85" cy="97.60" r="0.85" fill="#e9b93f" fill-opacity="0.4"/>
<circle cx="334.50" cy="136.35" r="0.85" fill="#e9b93f" fill-opacity="0.4"/>
<circle cx="334.52" cy="131.99" r="0.85" fill="#e9b93f" fill-opacity="0.4"/>
<circle cx="335.61" cy="120.57" r="0.85" fill="#e9b93f" fill-opacity="0.4"/>
<circle cx="334.46" cy="127.40" r="0.85" fill="#e9b93f" fill-opacity="0.4"/>
<circle cx="334.66" cy="127.36" r="0.85" fill="#e9b93f" fill-opacity="0.4"/>
<circle cx="335.70" cy="118.11" r="0.85" fill="#e9b93f" fill-opacity="0.4"/>
<circle cx="336.71" cy="123.35" r="0.85" fill="#e9b93f" fill-opacity="0.4"/>
<circle cx="335.64" cy="125.44" r="0.85" fill="#e9b93f" fill-opacity="0.4"/>
<circle cx="335.71" cy="128.01" r="0.85" fill="#e9b93f" fill-opacity="0.4"/>
<circle cx="338.22" cy="140.63" r="0.85" fill="#e9b93f" fill-opacity="0.4"/>
<line x1="327.3" y1="118.1" x2="345.2" y2="118.1" stroke="#2a2a2a" stroke-width="1.25"/>
<line x1="359.50" y1="97.8" x2="359.50" y2="148.0" stroke="#5f8088" stroke-width="0.8"/>
<rect x="350.5" y="115.4" width="18.00" height="16.40" fill="#acd5dc" stroke="#5f8088" stroke-width="0.9"/>
<circle cx="359.36" cy="142.63" r="0.85" fill="#5aa6b3" fill-opacity="0.4"/>
<circle cx="357.91" cy="118.34" r="0.85" fill="#5aa6b3" fill-opacity="0.4"/>
<circle cx="358.87" cy="124.69" r="0.85" fill="#5aa6b3" fill-opacity="0.4"/>
<circle cx="358.15" cy="121.72" r="0.85" fill="#5aa6b3" fill-opacity="0.4"/>
<circle cx="359.61" cy="128.95" r="0.85" fill="#5aa6b3" fill-opacity="0.4"/>
<circle cx="357.61" cy="134.45" r="0.85" fill="#5aa6b3" fill-opacity="0.4"/>
<circle cx="359.61" cy="137.72" r="0.85" fill="#5aa6b3" fill-opacity="0.4"/>
<circle cx="360.28" cy="120.43" r="0.85" fill="#5aa6b3" fill-opacity="0.4"/>
<circle cx="358.17" cy="123.19" r="0.85" fill="#5aa6b3" fill-opacity="0.4"/>
<circle cx="360.59" cy="137.13" r="0.85" fill="#5aa6b3" fill-opacity="0.4"/>
<circle cx="358.82" cy="100.85" r="0.85" fill="#5aa6b3" fill-opacity="0.4"/>
<circle cx="358.39" cy="119.27" r="0.85" fill="#5aa6b3" fill-opacity="0.4"/>
<circle cx="360.91" cy="139.02" r="0.85" fill="#5aa6b3" fill-opacity="0.4"/>
<circle cx="360.46" cy="132.81" r="0.85" fill="#5aa6b3" fill-opacity="0.4"/>
<circle cx="358.41" cy="100.41" r="0.85" fill="#5aa6b3" fill-opacity="0.4"/>
<circle cx="357.62" cy="111.37" r="0.85" fill="#5aa6b3" fill-opacity="0.4"/>
<circle cx="357.61" cy="122.68" r="0.85" fill="#5aa6b3" fill-opacity="0.4"/>
<circle cx="360.27" cy="122.15" r="0.85" fill="#5aa6b3" fill-opacity="0.4"/>
<circle cx="361.33" cy="134.51" r="0.85" fill="#5aa6b3" fill-opacity="0.4"/>
<circle cx="361.45" cy="134.56" r="0.85" fill="#5aa6b3" fill-opacity="0.4"/>
<circle cx="358.38" cy="136.60" r="0.85" fill="#5aa6b3" fill-opacity="0.4"/>
<circle cx="358.41" cy="120.47" r="0.85" fill="#5aa6b3" fill-opacity="0.4"/>
<circle cx="360.00" cy="127.14" r="0.85" fill="#5aa6b3" fill-opacity="0.4"/>
<circle cx="361.10" cy="132.83" r="0.85" fill="#5aa6b3" fill-opacity="0.4"/>
<circle cx="360.11" cy="132.50" r="0.85" fill="#5aa6b3" fill-opacity="0.4"/>
<circle cx="360.70" cy="110.94" r="0.85" fill="#5aa6b3" fill-opacity="0.4"/>
<circle cx="361.14" cy="141.41" r="0.85" fill="#5aa6b3" fill-opacity="0.4"/>
<circle cx="360.63" cy="134.30" r="0.85" fill="#5aa6b3" fill-opacity="0.4"/>
<circle cx="358.21" cy="124.11" r="0.85" fill="#5aa6b3" fill-opacity="0.4"/>
<circle cx="360.66" cy="108.52" r="0.85" fill="#5aa6b3" fill-opacity="0.4"/>
<circle cx="361.39" cy="111.93" r="0.85" fill="#5aa6b3" fill-opacity="0.4"/>
<circle cx="359.08" cy="145.42" r="0.85" fill="#5aa6b3" fill-opacity="0.4"/>
<circle cx="360.40" cy="143.32" r="0.85" fill="#5aa6b3" fill-opacity="0.4"/>
<circle cx="358.10" cy="127.53" r="0.85" fill="#5aa6b3" fill-opacity="0.4"/>
<circle cx="361.12" cy="130.34" r="0.85" fill="#5aa6b3" fill-opacity="0.4"/>
<circle cx="360.81" cy="126.77" r="0.85" fill="#5aa6b3" fill-opacity="0.4"/>
<circle cx="361.42" cy="116.90" r="0.85" fill="#5aa6b3" fill-opacity="0.4"/>
<circle cx="359.69" cy="117.11" r="0.85" fill="#5aa6b3" fill-opacity="0.4"/>
<circle cx="358.02" cy="113.50" r="0.85" fill="#5aa6b3" fill-opacity="0.4"/>
<circle cx="360.10" cy="127.35" r="0.85" fill="#5aa6b3" fill-opacity="0.4"/>
<circle cx="359.24" cy="118.81" r="0.85" fill="#5aa6b3" fill-opacity="0.4"/>
<circle cx="358.34" cy="141.80" r="0.85" fill="#5aa6b3" fill-opacity="0.4"/>
<circle cx="358.51" cy="105.66" r="0.85" fill="#5aa6b3" fill-opacity="0.4"/>
<circle cx="359.85" cy="121.40" r="0.85" fill="#5aa6b3" fill-opacity="0.4"/>
<circle cx="358.54" cy="133.87" r="0.85" fill="#5aa6b3" fill-opacity="0.4"/>
<circle cx="361.14" cy="117.77" r="0.85" fill="#5aa6b3" fill-opacity="0.4"/>
<circle cx="358.92" cy="127.63" r="0.85" fill="#5aa6b3" fill-opacity="0.4"/>
<circle cx="361.12" cy="106.64" r="0.85" fill="#5aa6b3" fill-opacity="0.4"/>
<circle cx="359.18" cy="128.80" r="0.85" fill="#5aa6b3" fill-opacity="0.4"/>
<circle cx="359.63" cy="138.12" r="0.85" fill="#5aa6b3" fill-opacity="0.4"/>
<circle cx="359.59" cy="116.13" r="0.85" fill="#5aa6b3" fill-opacity="0.4"/>
<circle cx="358.23" cy="138.72" r="0.85" fill="#5aa6b3" fill-opacity="0.4"/>
<circle cx="357.52" cy="125.83" r="0.85" fill="#5aa6b3" fill-opacity="0.4"/>
<circle cx="359.39" cy="126.66" r="0.85" fill="#5aa6b3" fill-opacity="0.4"/>
<circle cx="360.40" cy="116.09" r="0.85" fill="#5aa6b3" fill-opacity="0.4"/>
<circle cx="359.57" cy="112.72" r="0.85" fill="#5aa6b3" fill-opacity="0.4"/>
<circle cx="359.72" cy="119.88" r="0.85" fill="#5aa6b3" fill-opacity="0.4"/>
<circle cx="359.74" cy="125.48" r="0.85" fill="#5aa6b3" fill-opacity="0.4"/>
<circle cx="358.49" cy="117.78" r="0.85" fill="#5aa6b3" fill-opacity="0.4"/>
<circle cx="359.53" cy="120.14" r="0.85" fill="#5aa6b3" fill-opacity="0.4"/>
<circle cx="359.75" cy="147.27" r="0.85" fill="#5aa6b3" fill-opacity="0.4"/>
<circle cx="359.27" cy="125.99" r="0.85" fill="#5aa6b3" fill-opacity="0.4"/>
<circle cx="359.55" cy="111.77" r="0.85" fill="#5aa6b3" fill-opacity="0.4"/>
<circle cx="360.27" cy="113.56" r="0.85" fill="#5aa6b3" fill-opacity="0.4"/>
<circle cx="359.41" cy="107.98" r="0.85" fill="#5aa6b3" fill-opacity="0.4"/>
<circle cx="361.27" cy="129.08" r="0.85" fill="#5aa6b3" fill-opacity="0.4"/>
<circle cx="361.27" cy="115.33" r="0.85" fill="#5aa6b3" fill-opacity="0.4"/>
<circle cx="358.54" cy="97.56" r="0.85" fill="#5aa6b3" fill-opacity="0.4"/>
<circle cx="360.86" cy="112.14" r="0.85" fill="#5aa6b3" fill-opacity="0.4"/>
<circle cx="359.27" cy="128.63" r="0.85" fill="#5aa6b3" fill-opacity="0.4"/>
<line x1="350.5" y1="124.1" x2="368.5" y2="124.1" stroke="#2a2a2a" stroke-width="1.25"/>
<circle cx="361.5" cy="75.7" r="0.95" fill="#b0b0b0"/>
<circle cx="361.5" cy="158.5" r="0.95" fill="#b0b0b0"/>
<line x1="382.60" y1="84.0" x2="382.60" y2="144.8" stroke="#72805e" stroke-width="0.8"/>
<rect x="373.6" y="106.8" width="18.00" height="17.60" fill="#d3e4ab" stroke="#72805e" stroke-width="0.9"/>
<circle cx="380.89" cy="122.97" r="0.85" fill="#9cbd5c" fill-opacity="0.4"/>
<circle cx="383.28" cy="117.64" r="0.85" fill="#9cbd5c" fill-opacity="0.4"/>
<circle cx="383.74" cy="123.01" r="0.85" fill="#9cbd5c" fill-opacity="0.4"/>
<circle cx="383.46" cy="124.08" r="0.85" fill="#9cbd5c" fill-opacity="0.4"/>
<circle cx="383.24" cy="112.18" r="0.85" fill="#9cbd5c" fill-opacity="0.4"/>
<circle cx="384.47" cy="136.22" r="0.85" fill="#9cbd5c" fill-opacity="0.4"/>
<circle cx="381.48" cy="141.06" r="0.85" fill="#9cbd5c" fill-opacity="0.4"/>
<circle cx="382.55" cy="131.43" r="0.85" fill="#9cbd5c" fill-opacity="0.4"/>
<circle cx="384.56" cy="112.95" r="0.85" fill="#9cbd5c" fill-opacity="0.4"/>
<circle cx="382.33" cy="121.61" r="0.85" fill="#9cbd5c" fill-opacity="0.4"/>
<circle cx="382.66" cy="109.74" r="0.85" fill="#9cbd5c" fill-opacity="0.4"/>
<circle cx="381.87" cy="112.16" r="0.85" fill="#9cbd5c" fill-opacity="0.4"/>
<circle cx="383.49" cy="125.50" r="0.85" fill="#9cbd5c" fill-opacity="0.4"/>
<circle cx="382.36" cy="135.80" r="0.85" fill="#9cbd5c" fill-opacity="0.4"/>
<circle cx="380.67" cy="119.58" r="0.85" fill="#9cbd5c" fill-opacity="0.4"/>
<circle cx="382.65" cy="107.25" r="0.85" fill="#9cbd5c" fill-opacity="0.4"/>
<circle cx="380.86" cy="135.18" r="0.85" fill="#9cbd5c" fill-opacity="0.4"/>
<circle cx="384.49" cy="143.03" r="0.85" fill="#9cbd5c" fill-opacity="0.4"/>
<circle cx="381.02" cy="114.88" r="0.85" fill="#9cbd5c" fill-opacity="0.4"/>
<circle cx="383.72" cy="116.89" r="0.85" fill="#9cbd5c" fill-opacity="0.4"/>
<circle cx="381.68" cy="121.45" r="0.85" fill="#9cbd5c" fill-opacity="0.4"/>
<circle cx="384.25" cy="127.85" r="0.85" fill="#9cbd5c" fill-opacity="0.4"/>
<circle cx="383.88" cy="128.47" r="0.85" fill="#9cbd5c" fill-opacity="0.4"/>
<circle cx="384.28" cy="116.85" r="0.85" fill="#9cbd5c" fill-opacity="0.4"/>
<circle cx="382.88" cy="125.63" r="0.85" fill="#9cbd5c" fill-opacity="0.4"/>
<circle cx="380.83" cy="115.35" r="0.85" fill="#9cbd5c" fill-opacity="0.4"/>
<circle cx="383.35" cy="111.26" r="0.85" fill="#9cbd5c" fill-opacity="0.4"/>
<circle cx="384.35" cy="112.23" r="0.85" fill="#9cbd5c" fill-opacity="0.4"/>
<circle cx="383.14" cy="119.87" r="0.85" fill="#9cbd5c" fill-opacity="0.4"/>
<circle cx="384.02" cy="119.26" r="0.85" fill="#9cbd5c" fill-opacity="0.4"/>
<circle cx="380.87" cy="111.49" r="0.85" fill="#9cbd5c" fill-opacity="0.4"/>
<circle cx="381.96" cy="127.80" r="0.85" fill="#9cbd5c" fill-opacity="0.4"/>
<circle cx="382.81" cy="105.05" r="0.85" fill="#9cbd5c" fill-opacity="0.4"/>
<circle cx="381.12" cy="127.67" r="0.85" fill="#9cbd5c" fill-opacity="0.4"/>
<circle cx="382.71" cy="112.15" r="0.85" fill="#9cbd5c" fill-opacity="0.4"/>
<circle cx="381.25" cy="117.81" r="0.85" fill="#9cbd5c" fill-opacity="0.4"/>
<circle cx="380.80" cy="124.34" r="0.85" fill="#9cbd5c" fill-opacity="0.4"/>
<circle cx="381.82" cy="121.09" r="0.85" fill="#9cbd5c" fill-opacity="0.4"/>
<circle cx="383.64" cy="129.41" r="0.85" fill="#9cbd5c" fill-opacity="0.4"/>
<circle cx="381.31" cy="113.01" r="0.85" fill="#9cbd5c" fill-opacity="0.4"/>
<circle cx="381.99" cy="134.03" r="0.85" fill="#9cbd5c" fill-opacity="0.4"/>
<circle cx="380.66" cy="128.36" r="0.85" fill="#9cbd5c" fill-opacity="0.4"/>
<circle cx="383.53" cy="118.57" r="0.85" fill="#9cbd5c" fill-opacity="0.4"/>
<circle cx="382.50" cy="108.28" r="0.85" fill="#9cbd5c" fill-opacity="0.4"/>
<circle cx="384.34" cy="114.30" r="0.85" fill="#9cbd5c" fill-opacity="0.4"/>
<circle cx="382.33" cy="138.59" r="0.85" fill="#9cbd5c" fill-opacity="0.4"/>
<circle cx="382.58" cy="134.09" r="0.85" fill="#9cbd5c" fill-opacity="0.4"/>
<circle cx="382.63" cy="124.73" r="0.85" fill="#9cbd5c" fill-opacity="0.4"/>
<circle cx="383.35" cy="104.67" r="0.85" fill="#9cbd5c" fill-opacity="0.4"/>
<circle cx="383.93" cy="130.65" r="0.85" fill="#9cbd5c" fill-opacity="0.4"/>
<circle cx="383.43" cy="115.82" r="0.85" fill="#9cbd5c" fill-opacity="0.4"/>
<circle cx="381.99" cy="107.49" r="0.85" fill="#9cbd5c" fill-opacity="0.4"/>
<circle cx="380.82" cy="106.03" r="0.85" fill="#9cbd5c" fill-opacity="0.4"/>
<circle cx="383.56" cy="121.15" r="0.85" fill="#9cbd5c" fill-opacity="0.4"/>
<circle cx="381.62" cy="121.39" r="0.85" fill="#9cbd5c" fill-opacity="0.4"/>
<circle cx="383.97" cy="120.50" r="0.85" fill="#9cbd5c" fill-opacity="0.4"/>
<circle cx="384.08" cy="122.57" r="0.85" fill="#9cbd5c" fill-opacity="0.4"/>
<circle cx="381.57" cy="111.59" r="0.85" fill="#9cbd5c" fill-opacity="0.4"/>
<circle cx="381.77" cy="106.82" r="0.85" fill="#9cbd5c" fill-opacity="0.4"/>
<circle cx="382.38" cy="108.99" r="0.85" fill="#9cbd5c" fill-opacity="0.4"/>
<circle cx="381.65" cy="119.46" r="0.85" fill="#9cbd5c" fill-opacity="0.4"/>
<circle cx="382.79" cy="107.94" r="0.85" fill="#9cbd5c" fill-opacity="0.4"/>
<circle cx="381.84" cy="118.63" r="0.85" fill="#9cbd5c" fill-opacity="0.4"/>
<circle cx="382.13" cy="116.88" r="0.85" fill="#9cbd5c" fill-opacity="0.4"/>
<circle cx="382.50" cy="117.83" r="0.85" fill="#9cbd5c" fill-opacity="0.4"/>
<circle cx="382.62" cy="107.48" r="0.85" fill="#9cbd5c" fill-opacity="0.4"/>
<circle cx="380.62" cy="117.13" r="0.85" fill="#9cbd5c" fill-opacity="0.4"/>
<circle cx="382.20" cy="116.73" r="0.85" fill="#9cbd5c" fill-opacity="0.4"/>
<circle cx="380.77" cy="123.64" r="0.85" fill="#9cbd5c" fill-opacity="0.4"/>
<circle cx="381.53" cy="129.67" r="0.85" fill="#9cbd5c" fill-opacity="0.4"/>
<line x1="373.6" y1="117.3" x2="391.6" y2="117.3" stroke="#2a2a2a" stroke-width="1.25"/>
<circle cx="385" cy="58.3" r="0.95" fill="#b0b0b0"/>
<line x1="405.90" y1="83.8" x2="405.90" y2="140.7" stroke="#76604e" stroke-width="0.8"/>
<rect x="397.0" y="107.0" width="17.80" height="18.40" fill="#d9b49c" stroke="#76604e" stroke-width="0.9"/>
<circle cx="406.24" cy="119.04" r="0.85" fill="#9b5a2f" fill-opacity="0.4"/>
<circle cx="406.53" cy="92.08" r="0.85" fill="#9b5a2f" fill-opacity="0.4"/>
<circle cx="406.76" cy="112.54" r="0.85" fill="#9b5a2f" fill-opacity="0.4"/>
<circle cx="405.20" cy="128.24" r="0.85" fill="#9b5a2f" fill-opacity="0.4"/>
<circle cx="407.84" cy="106.71" r="0.85" fill="#9b5a2f" fill-opacity="0.4"/>
<circle cx="406.47" cy="131.73" r="0.85" fill="#9b5a2f" fill-opacity="0.4"/>
<circle cx="404.08" cy="137.06" r="0.85" fill="#9b5a2f" fill-opacity="0.4"/>
<circle cx="406.41" cy="133.72" r="0.85" fill="#9b5a2f" fill-opacity="0.4"/>
<circle cx="406.84" cy="89.39" r="0.85" fill="#9b5a2f" fill-opacity="0.4"/>
<circle cx="406.00" cy="120.40" r="0.85" fill="#9b5a2f" fill-opacity="0.4"/>
<circle cx="405.92" cy="109.43" r="0.85" fill="#9b5a2f" fill-opacity="0.4"/>
<circle cx="407.21" cy="131.30" r="0.85" fill="#9b5a2f" fill-opacity="0.4"/>
<circle cx="406.24" cy="93.34" r="0.85" fill="#9b5a2f" fill-opacity="0.4"/>
<circle cx="406.67" cy="135.37" r="0.85" fill="#9b5a2f" fill-opacity="0.4"/>
<circle cx="404.82" cy="102.71" r="0.85" fill="#9b5a2f" fill-opacity="0.4"/>
<circle cx="405.34" cy="125.24" r="0.85" fill="#9b5a2f" fill-opacity="0.4"/>
<circle cx="404.32" cy="118.79" r="0.85" fill="#9b5a2f" fill-opacity="0.4"/>
<circle cx="406.41" cy="127.27" r="0.85" fill="#9b5a2f" fill-opacity="0.4"/>
<circle cx="406.40" cy="100.37" r="0.85" fill="#9b5a2f" fill-opacity="0.4"/>
<circle cx="403.91" cy="109.70" r="0.85" fill="#9b5a2f" fill-opacity="0.4"/>
<circle cx="407.09" cy="101.08" r="0.85" fill="#9b5a2f" fill-opacity="0.4"/>
<circle cx="406.04" cy="117.00" r="0.85" fill="#9b5a2f" fill-opacity="0.4"/>
<circle cx="406.54" cy="99.07" r="0.85" fill="#9b5a2f" fill-opacity="0.4"/>
<circle cx="404.91" cy="140.13" r="0.85" fill="#9b5a2f" fill-opacity="0.4"/>
<circle cx="404.20" cy="127.30" r="0.85" fill="#9b5a2f" fill-opacity="0.4"/>
<circle cx="404.72" cy="114.78" r="0.85" fill="#9b5a2f" fill-opacity="0.4"/>
<circle cx="405.88" cy="114.53" r="0.85" fill="#9b5a2f" fill-opacity="0.4"/>
<circle cx="406.63" cy="104.24" r="0.85" fill="#9b5a2f" fill-opacity="0.4"/>
<circle cx="406.97" cy="128.98" r="0.85" fill="#9b5a2f" fill-opacity="0.4"/>
<circle cx="404.21" cy="100.88" r="0.85" fill="#9b5a2f" fill-opacity="0.4"/>
<circle cx="404.49" cy="102.45" r="0.85" fill="#9b5a2f" fill-opacity="0.4"/>
<circle cx="405.12" cy="116.57" r="0.85" fill="#9b5a2f" fill-opacity="0.4"/>
<circle cx="404.14" cy="114.99" r="0.85" fill="#9b5a2f" fill-opacity="0.4"/>
<circle cx="404.98" cy="116.20" r="0.85" fill="#9b5a2f" fill-opacity="0.4"/>
<circle cx="406.60" cy="106.12" r="0.85" fill="#9b5a2f" fill-opacity="0.4"/>
<circle cx="405.06" cy="96.43" r="0.85" fill="#9b5a2f" fill-opacity="0.4"/>
<circle cx="405.77" cy="100.15" r="0.85" fill="#9b5a2f" fill-opacity="0.4"/>
<circle cx="404.37" cy="115.42" r="0.85" fill="#9b5a2f" fill-opacity="0.4"/>
<circle cx="407.81" cy="125.22" r="0.85" fill="#9b5a2f" fill-opacity="0.4"/>
<circle cx="407.65" cy="110.87" r="0.85" fill="#9b5a2f" fill-opacity="0.4"/>
<circle cx="407.18" cy="134.09" r="0.85" fill="#9b5a2f" fill-opacity="0.4"/>
<circle cx="407.77" cy="119.07" r="0.85" fill="#9b5a2f" fill-opacity="0.4"/>
<circle cx="404.74" cy="105.68" r="0.85" fill="#9b5a2f" fill-opacity="0.4"/>
<circle cx="407.68" cy="120.99" r="0.85" fill="#9b5a2f" fill-opacity="0.4"/>
<circle cx="404.47" cy="122.15" r="0.85" fill="#9b5a2f" fill-opacity="0.4"/>
<circle cx="406.00" cy="136.82" r="0.85" fill="#9b5a2f" fill-opacity="0.4"/>
<circle cx="407.18" cy="125.02" r="0.85" fill="#9b5a2f" fill-opacity="0.4"/>
<circle cx="405.93" cy="114.81" r="0.85" fill="#9b5a2f" fill-opacity="0.4"/>
<circle cx="404.83" cy="135.31" r="0.85" fill="#9b5a2f" fill-opacity="0.4"/>
<circle cx="407.49" cy="101.60" r="0.85" fill="#9b5a2f" fill-opacity="0.4"/>
<circle cx="403.91" cy="113.77" r="0.85" fill="#9b5a2f" fill-opacity="0.4"/>
<circle cx="405.87" cy="117.50" r="0.85" fill="#9b5a2f" fill-opacity="0.4"/>
<circle cx="404.46" cy="104.82" r="0.85" fill="#9b5a2f" fill-opacity="0.4"/>
<circle cx="405.28" cy="121.16" r="0.85" fill="#9b5a2f" fill-opacity="0.4"/>
<circle cx="403.91" cy="105.35" r="0.85" fill="#9b5a2f" fill-opacity="0.4"/>
<circle cx="404.38" cy="117.34" r="0.85" fill="#9b5a2f" fill-opacity="0.4"/>
<circle cx="407.61" cy="87.89" r="0.85" fill="#9b5a2f" fill-opacity="0.4"/>
<circle cx="405.06" cy="109.60" r="0.85" fill="#9b5a2f" fill-opacity="0.4"/>
<circle cx="405.39" cy="85.07" r="0.85" fill="#9b5a2f" fill-opacity="0.4"/>
<circle cx="405.61" cy="104.91" r="0.85" fill="#9b5a2f" fill-opacity="0.4"/>
<circle cx="405.00" cy="109.49" r="0.85" fill="#9b5a2f" fill-opacity="0.4"/>
<circle cx="407.24" cy="123.98" r="0.85" fill="#9b5a2f" fill-opacity="0.4"/>
<circle cx="405.04" cy="119.32" r="0.85" fill="#9b5a2f" fill-opacity="0.4"/>
<circle cx="404.96" cy="127.87" r="0.85" fill="#9b5a2f" fill-opacity="0.4"/>
<circle cx="405.94" cy="112.63" r="0.85" fill="#9b5a2f" fill-opacity="0.4"/>
<circle cx="407.72" cy="122.67" r="0.85" fill="#9b5a2f" fill-opacity="0.4"/>
<circle cx="407.44" cy="130.98" r="0.85" fill="#9b5a2f" fill-opacity="0.4"/>
<circle cx="407.55" cy="125.42" r="0.85" fill="#9b5a2f" fill-opacity="0.4"/>
<circle cx="407.66" cy="97.17" r="0.85" fill="#9b5a2f" fill-opacity="0.4"/>
<circle cx="404.10" cy="93.91" r="0.85" fill="#9b5a2f" fill-opacity="0.4"/>
<line x1="397.0" y1="117.2" x2="414.8" y2="117.2" stroke="#2a2a2a" stroke-width="1.25"/>
<rect x="422.5" y="4.5" width="97.0" height="160" fill="#fff" stroke="#8a8a8a" stroke-width="1"/>
<rect x="422.5" y="4.5" width="97.0" height="11" fill="#ececec" stroke="#8a8a8a" stroke-width="1"/>
<text x="471.0" y="13.2" font-size="7.3" text-anchor="middle" fill="#111" stroke="#111" stroke-width="0.18" style="font-style:italic" >MPC2</text>
<line x1="423.0" y1="60.52" x2="519.0" y2="60.52" stroke="#efefef" stroke-width="0.8"/>
<line x1="423.0" y1="89.26" x2="519.0" y2="89.26" stroke="#efefef" stroke-width="0.8"/>
<line x1="423.0" y1="118.00" x2="519.0" y2="118.00" stroke="#efefef" stroke-width="0.8"/>
<line x1="423.0" y1="146.74" x2="519.0" y2="146.74" stroke="#efefef" stroke-width="0.8"/>
<text x="424.7" y="23.6" font-size="7.3" text-anchor="start" fill="#111" stroke="#111" stroke-width="0.18" style="" >Glyco. vs choles. <tspan font-style="italic">P</tspan> = 5.0e-9</text>
<text x="424.7" y="32.900000000000006" font-size="7.3" text-anchor="start" fill="#111" stroke="#111" stroke-width="0.18" style="" >Glyco. vs mixed <tspan font-style="italic">P</tspan> = 2.9e-5</text>
<text x="424.7" y="42.2" font-size="7.3" text-anchor="start" fill="#111" stroke="#111" stroke-width="0.18" style="" >Glyco. vs quies. <tspan font-style="italic">P</tspan> = 0.002</text>
<text x="424.7" y="51.5" font-size="7.3" text-anchor="start" fill="#111" stroke="#111" stroke-width="0.18" style="" >Choles. vs quies. <tspan font-style="italic">P</tspan> = 0.006</text>
<line x1="436.10" y1="80.8" x2="436.10" y2="143.2" stroke="#8f8262" stroke-width="0.8"/>
<rect x="427.2" y="108.8" width="17.80" height="19.60" fill="#f6db94" stroke="#8f8262" stroke-width="0.9"/>
<circle cx="437.03" cy="111.57" r="0.85" fill="#e9b93f" fill-opacity="0.4"/>
<circle cx="436.68" cy="93.49" r="0.85" fill="#e9b93f" fill-opacity="0.4"/>
<circle cx="435.24" cy="127.80" r="0.85" fill="#e9b93f" fill-opacity="0.4"/>
<circle cx="434.61" cy="130.81" r="0.85" fill="#e9b93f" fill-opacity="0.4"/>
<circle cx="435.29" cy="104.74" r="0.85" fill="#e9b93f" fill-opacity="0.4"/>
<circle cx="437.06" cy="122.11" r="0.85" fill="#e9b93f" fill-opacity="0.4"/>
<circle cx="436.72" cy="132.04" r="0.85" fill="#e9b93f" fill-opacity="0.4"/>
<circle cx="435.30" cy="117.62" r="0.85" fill="#e9b93f" fill-opacity="0.4"/>
<circle cx="434.77" cy="104.19" r="0.85" fill="#e9b93f" fill-opacity="0.4"/>
<circle cx="434.75" cy="113.74" r="0.85" fill="#e9b93f" fill-opacity="0.4"/>
<circle cx="436.09" cy="128.79" r="0.85" fill="#e9b93f" fill-opacity="0.4"/>
<circle cx="438.09" cy="126.15" r="0.85" fill="#e9b93f" fill-opacity="0.4"/>
<circle cx="434.87" cy="110.98" r="0.85" fill="#e9b93f" fill-opacity="0.4"/>
<circle cx="434.46" cy="122.27" r="0.85" fill="#e9b93f" fill-opacity="0.4"/>
<circle cx="435.06" cy="115.60" r="0.85" fill="#e9b93f" fill-opacity="0.4"/>
<circle cx="435.13" cy="125.48" r="0.85" fill="#e9b93f" fill-opacity="0.4"/>
<circle cx="437.10" cy="88.59" r="0.85" fill="#e9b93f" fill-opacity="0.4"/>
<circle cx="435.75" cy="105.04" r="0.85" fill="#e9b93f" fill-opacity="0.4"/>
<circle cx="435.61" cy="102.44" r="0.85" fill="#e9b93f" fill-opacity="0.4"/>
<circle cx="435.45" cy="129.75" r="0.85" fill="#e9b93f" fill-opacity="0.4"/>
<circle cx="437.97" cy="131.68" r="0.85" fill="#e9b93f" fill-opacity="0.4"/>
<circle cx="434.60" cy="124.51" r="0.85" fill="#e9b93f" fill-opacity="0.4"/>
<circle cx="437.55" cy="96.48" r="0.85" fill="#e9b93f" fill-opacity="0.4"/>
<circle cx="434.96" cy="119.01" r="0.85" fill="#e9b93f" fill-opacity="0.4"/>
<circle cx="435.70" cy="117.87" r="0.85" fill="#e9b93f" fill-opacity="0.4"/>
<circle cx="435.88" cy="131.74" r="0.85" fill="#e9b93f" fill-opacity="0.4"/>
<circle cx="437.59" cy="110.44" r="0.85" fill="#e9b93f" fill-opacity="0.4"/>
<circle cx="436.94" cy="123.64" r="0.85" fill="#e9b93f" fill-opacity="0.4"/>
<circle cx="437.68" cy="120.07" r="0.85" fill="#e9b93f" fill-opacity="0.4"/>
<circle cx="434.10" cy="98.08" r="0.85" fill="#e9b93f" fill-opacity="0.4"/>
<circle cx="435.67" cy="123.13" r="0.85" fill="#e9b93f" fill-opacity="0.4"/>
<circle cx="437.52" cy="105.96" r="0.85" fill="#e9b93f" fill-opacity="0.4"/>
<circle cx="434.54" cy="131.66" r="0.85" fill="#e9b93f" fill-opacity="0.4"/>
<circle cx="434.72" cy="117.36" r="0.85" fill="#e9b93f" fill-opacity="0.4"/>
<circle cx="437.87" cy="95.02" r="0.85" fill="#e9b93f" fill-opacity="0.4"/>
<circle cx="436.99" cy="116.04" r="0.85" fill="#e9b93f" fill-opacity="0.4"/>
<circle cx="435.93" cy="102.79" r="0.85" fill="#e9b93f" fill-opacity="0.4"/>
<circle cx="436.31" cy="97.29" r="0.85" fill="#e9b93f" fill-opacity="0.4"/>
<circle cx="435.03" cy="126.51" r="0.85" fill="#e9b93f" fill-opacity="0.4"/>
<circle cx="435.32" cy="140.11" r="0.85" fill="#e9b93f" fill-opacity="0.4"/>
<circle cx="434.61" cy="108.16" r="0.85" fill="#e9b93f" fill-opacity="0.4"/>
<circle cx="436.89" cy="119.24" r="0.85" fill="#e9b93f" fill-opacity="0.4"/>
<circle cx="434.55" cy="142.73" r="0.85" fill="#e9b93f" fill-opacity="0.4"/>
<circle cx="436.43" cy="137.50" r="0.85" fill="#e9b93f" fill-opacity="0.4"/>
<circle cx="435.65" cy="128.02" r="0.85" fill="#e9b93f" fill-opacity="0.4"/>
<circle cx="434.14" cy="123.16" r="0.85" fill="#e9b93f" fill-opacity="0.4"/>
<circle cx="435.31" cy="141.34" r="0.85" fill="#e9b93f" fill-opacity="0.4"/>
<circle cx="436.68" cy="129.59" r="0.85" fill="#e9b93f" fill-opacity="0.4"/>
<circle cx="435.04" cy="133.32" r="0.85" fill="#e9b93f" fill-opacity="0.4"/>
<circle cx="435.09" cy="107.13" r="0.85" fill="#e9b93f" fill-opacity="0.4"/>
<circle cx="435.33" cy="113.25" r="0.85" fill="#e9b93f" fill-opacity="0.4"/>
<circle cx="436.80" cy="138.50" r="0.85" fill="#e9b93f" fill-opacity="0.4"/>
<circle cx="435.78" cy="122.12" r="0.85" fill="#e9b93f" fill-opacity="0.4"/>
<circle cx="437.80" cy="118.40" r="0.85" fill="#e9b93f" fill-opacity="0.4"/>
<circle cx="435.45" cy="120.13" r="0.85" fill="#e9b93f" fill-opacity="0.4"/>
<circle cx="435.78" cy="123.76" r="0.85" fill="#e9b93f" fill-opacity="0.4"/>
<circle cx="437.29" cy="115.04" r="0.85" fill="#e9b93f" fill-opacity="0.4"/>
<circle cx="437.06" cy="109.61" r="0.85" fill="#e9b93f" fill-opacity="0.4"/>
<circle cx="437.98" cy="108.43" r="0.85" fill="#e9b93f" fill-opacity="0.4"/>
<circle cx="435.35" cy="119.16" r="0.85" fill="#e9b93f" fill-opacity="0.4"/>
<circle cx="434.99" cy="124.54" r="0.85" fill="#e9b93f" fill-opacity="0.4"/>
<circle cx="437.14" cy="108.79" r="0.85" fill="#e9b93f" fill-opacity="0.4"/>
<circle cx="436.08" cy="108.29" r="0.85" fill="#e9b93f" fill-opacity="0.4"/>
<circle cx="435.77" cy="123.96" r="0.85" fill="#e9b93f" fill-opacity="0.4"/>
<circle cx="436.76" cy="130.22" r="0.85" fill="#e9b93f" fill-opacity="0.4"/>
<circle cx="435.67" cy="128.22" r="0.85" fill="#e9b93f" fill-opacity="0.4"/>
<circle cx="434.95" cy="116.59" r="0.85" fill="#e9b93f" fill-opacity="0.4"/>
<circle cx="434.31" cy="128.42" r="0.85" fill="#e9b93f" fill-opacity="0.4"/>
<circle cx="434.34" cy="118.04" r="0.85" fill="#e9b93f" fill-opacity="0.4"/>
<circle cx="437.63" cy="92.14" r="0.85" fill="#e9b93f" fill-opacity="0.4"/>
<line x1="427.2" y1="119.5" x2="445.0" y2="119.5" stroke="#2a2a2a" stroke-width="1.25"/>
<line x1="459.10" y1="98.6" x2="459.10" y2="150.9" stroke="#5f8088" stroke-width="0.8"/>
<rect x="450.2" y="121.0" width="17.80" height="11.50" fill="#acd5dc" stroke="#5f8088" stroke-width="0.9"/>
<circle cx="460.03" cy="138.82" r="0.85" fill="#5aa6b3" fill-opacity="0.4"/>
<circle cx="458.42" cy="148.29" r="0.85" fill="#5aa6b3" fill-opacity="0.4"/>
<circle cx="457.84" cy="125.76" r="0.85" fill="#5aa6b3" fill-opacity="0.4"/>
<circle cx="457.23" cy="140.70" r="0.85" fill="#5aa6b3" fill-opacity="0.4"/>
<circle cx="459.76" cy="119.88" r="0.85" fill="#5aa6b3" fill-opacity="0.4"/>
<circle cx="458.43" cy="119.40" r="0.85" fill="#5aa6b3" fill-opacity="0.4"/>
<circle cx="457.78" cy="132.51" r="0.85" fill="#5aa6b3" fill-opacity="0.4"/>
<circle cx="458.51" cy="133.86" r="0.85" fill="#5aa6b3" fill-opacity="0.4"/>
<circle cx="460.92" cy="126.24" r="0.85" fill="#5aa6b3" fill-opacity="0.4"/>
<circle cx="457.93" cy="143.73" r="0.85" fill="#5aa6b3" fill-opacity="0.4"/>
<circle cx="458.53" cy="143.45" r="0.85" fill="#5aa6b3" fill-opacity="0.4"/>
<circle cx="458.83" cy="133.84" r="0.85" fill="#5aa6b3" fill-opacity="0.4"/>
<circle cx="457.30" cy="110.06" r="0.85" fill="#5aa6b3" fill-opacity="0.4"/>
<circle cx="460.78" cy="116.97" r="0.85" fill="#5aa6b3" fill-opacity="0.4"/>
<circle cx="457.87" cy="127.64" r="0.85" fill="#5aa6b3" fill-opacity="0.4"/>
<circle cx="457.22" cy="112.66" r="0.85" fill="#5aa6b3" fill-opacity="0.4"/>
<circle cx="458.74" cy="141.49" r="0.85" fill="#5aa6b3" fill-opacity="0.4"/>
<circle cx="457.26" cy="132.29" r="0.85" fill="#5aa6b3" fill-opacity="0.4"/>
<circle cx="457.24" cy="110.97" r="0.85" fill="#5aa6b3" fill-opacity="0.4"/>
<circle cx="458.13" cy="146.00" r="0.85" fill="#5aa6b3" fill-opacity="0.4"/>
<circle cx="460.09" cy="134.35" r="0.85" fill="#5aa6b3" fill-opacity="0.4"/>
<circle cx="458.19" cy="133.11" r="0.85" fill="#5aa6b3" fill-opacity="0.4"/>
<circle cx="460.93" cy="120.91" r="0.85" fill="#5aa6b3" fill-opacity="0.4"/>
<circle cx="459.97" cy="120.56" r="0.85" fill="#5aa6b3" fill-opacity="0.4"/>
<circle cx="458.37" cy="121.09" r="0.85" fill="#5aa6b3" fill-opacity="0.4"/>
<circle cx="460.12" cy="125.97" r="0.85" fill="#5aa6b3" fill-opacity="0.4"/>
<circle cx="460.77" cy="126.92" r="0.85" fill="#5aa6b3" fill-opacity="0.4"/>
<circle cx="457.20" cy="110.81" r="0.85" fill="#5aa6b3" fill-opacity="0.4"/>
<circle cx="458.04" cy="108.98" r="0.85" fill="#5aa6b3" fill-opacity="0.4"/>
<circle cx="460.92" cy="102.37" r="0.85" fill="#5aa6b3" fill-opacity="0.4"/>
<circle cx="458.65" cy="129.83" r="0.85" fill="#5aa6b3" fill-opacity="0.4"/>
<circle cx="459.07" cy="126.03" r="0.85" fill="#5aa6b3" fill-opacity="0.4"/>
<circle cx="460.81" cy="136.26" r="0.85" fill="#5aa6b3" fill-opacity="0.4"/>
<circle cx="460.05" cy="133.16" r="0.85" fill="#5aa6b3" fill-opacity="0.4"/>
<circle cx="460.39" cy="141.85" r="0.85" fill="#5aa6b3" fill-opacity="0.4"/>
<circle cx="458.41" cy="127.97" r="0.85" fill="#5aa6b3" fill-opacity="0.4"/>
<circle cx="458.38" cy="113.13" r="0.85" fill="#5aa6b3" fill-opacity="0.4"/>
<circle cx="457.42" cy="115.28" r="0.85" fill="#5aa6b3" fill-opacity="0.4"/>
<circle cx="457.89" cy="138.87" r="0.85" fill="#5aa6b3" fill-opacity="0.4"/>
<circle cx="457.36" cy="126.23" r="0.85" fill="#5aa6b3" fill-opacity="0.4"/>
<circle cx="457.24" cy="118.88" r="0.85" fill="#5aa6b3" fill-opacity="0.4"/>
<circle cx="461.02" cy="118.05" r="0.85" fill="#5aa6b3" fill-opacity="0.4"/>
<circle cx="460.63" cy="123.34" r="0.85" fill="#5aa6b3" fill-opacity="0.4"/>
<circle cx="457.44" cy="133.60" r="0.85" fill="#5aa6b3" fill-opacity="0.4"/>
<circle cx="457.49" cy="125.53" r="0.85" fill="#5aa6b3" fill-opacity="0.4"/>
<circle cx="458.89" cy="111.03" r="0.85" fill="#5aa6b3" fill-opacity="0.4"/>
<circle cx="458.04" cy="126.24" r="0.85" fill="#5aa6b3" fill-opacity="0.4"/>
<circle cx="459.80" cy="114.54" r="0.85" fill="#5aa6b3" fill-opacity="0.4"/>
<circle cx="460.09" cy="132.76" r="0.85" fill="#5aa6b3" fill-opacity="0.4"/>
<circle cx="457.58" cy="134.21" r="0.85" fill="#5aa6b3" fill-opacity="0.4"/>
<circle cx="460.46" cy="114.49" r="0.85" fill="#5aa6b3" fill-opacity="0.4"/>
<circle cx="458.59" cy="122.73" r="0.85" fill="#5aa6b3" fill-opacity="0.4"/>
<circle cx="460.05" cy="138.03" r="0.85" fill="#5aa6b3" fill-opacity="0.4"/>
<circle cx="458.08" cy="128.37" r="0.85" fill="#5aa6b3" fill-opacity="0.4"/>
<circle cx="457.71" cy="132.96" r="0.85" fill="#5aa6b3" fill-opacity="0.4"/>
<circle cx="458.41" cy="135.50" r="0.85" fill="#5aa6b3" fill-opacity="0.4"/>
<circle cx="458.68" cy="117.72" r="0.85" fill="#5aa6b3" fill-opacity="0.4"/>
<circle cx="458.03" cy="137.49" r="0.85" fill="#5aa6b3" fill-opacity="0.4"/>
<circle cx="460.33" cy="125.56" r="0.85" fill="#5aa6b3" fill-opacity="0.4"/>
<circle cx="457.51" cy="109.32" r="0.85" fill="#5aa6b3" fill-opacity="0.4"/>
<circle cx="459.00" cy="101.96" r="0.85" fill="#5aa6b3" fill-opacity="0.4"/>
<circle cx="460.76" cy="133.83" r="0.85" fill="#5aa6b3" fill-opacity="0.4"/>
<circle cx="457.26" cy="109.44" r="0.85" fill="#5aa6b3" fill-opacity="0.4"/>
<circle cx="457.86" cy="124.79" r="0.85" fill="#5aa6b3" fill-opacity="0.4"/>
<circle cx="460.99" cy="130.75" r="0.85" fill="#5aa6b3" fill-opacity="0.4"/>
<circle cx="458.59" cy="106.94" r="0.85" fill="#5aa6b3" fill-opacity="0.4"/>
<circle cx="460.56" cy="115.06" r="0.85" fill="#5aa6b3" fill-opacity="0.4"/>
<circle cx="460.21" cy="119.04" r="0.85" fill="#5aa6b3" fill-opacity="0.4"/>
<circle cx="460.88" cy="128.44" r="0.85" fill="#5aa6b3" fill-opacity="0.4"/>
<circle cx="459.58" cy="136.26" r="0.85" fill="#5aa6b3" fill-opacity="0.4"/>
<line x1="450.2" y1="126.1" x2="468.0" y2="126.1" stroke="#2a2a2a" stroke-width="1.25"/>
<circle cx="459.1" cy="84.6" r="0.95" fill="#b0b0b0"/>
<line x1="482.30" y1="88.4" x2="482.30" y2="148.3" stroke="#72805e" stroke-width="0.8"/>
<rect x="473.1" y="103.7" width="18.40" height="19.60" fill="#d3e4ab" stroke="#72805e" stroke-width="0.9"/>
<circle cx="481.17" cy="124.97" r="0.85" fill="#9cbd5c" fill-opacity="0.4"/>
<circle cx="481.12" cy="105.28" r="0.85" fill="#9cbd5c" fill-opacity="0.4"/>
<circle cx="481.32" cy="118.02" r="0.85" fill="#9cbd5c" fill-opacity="0.4"/>
<circle cx="481.11" cy="92.16" r="0.85" fill="#9cbd5c" fill-opacity="0.4"/>
<circle cx="480.35" cy="97.53" r="0.85" fill="#9cbd5c" fill-opacity="0.4"/>
<circle cx="481.04" cy="99.92" r="0.85" fill="#9cbd5c" fill-opacity="0.4"/>
<circle cx="481.55" cy="133.16" r="0.85" fill="#9cbd5c" fill-opacity="0.4"/>
<circle cx="482.49" cy="119.80" r="0.85" fill="#9cbd5c" fill-opacity="0.4"/>
<circle cx="480.55" cy="139.25" r="0.85" fill="#9cbd5c" fill-opacity="0.4"/>
<circle cx="482.50" cy="124.57" r="0.85" fill="#9cbd5c" fill-opacity="0.4"/>
<circle cx="482.86" cy="121.14" r="0.85" fill="#9cbd5c" fill-opacity="0.4"/>
<circle cx="483.08" cy="119.61" r="0.85" fill="#9cbd5c" fill-opacity="0.4"/>
<circle cx="481.94" cy="116.69" r="0.85" fill="#9cbd5c" fill-opacity="0.4"/>
<circle cx="484.11" cy="108.49" r="0.85" fill="#9cbd5c" fill-opacity="0.4"/>
<circle cx="481.55" cy="125.10" r="0.85" fill="#9cbd5c" fill-opacity="0.4"/>
<circle cx="481.97" cy="97.37" r="0.85" fill="#9cbd5c" fill-opacity="0.4"/>
<circle cx="483.76" cy="105.17" r="0.85" fill="#9cbd5c" fill-opacity="0.4"/>
<circle cx="481.09" cy="126.93" r="0.85" fill="#9cbd5c" fill-opacity="0.4"/>
<circle cx="483.21" cy="111.07" r="0.85" fill="#9cbd5c" fill-opacity="0.4"/>
<circle cx="483.91" cy="111.91" r="0.85" fill="#9cbd5c" fill-opacity="0.4"/>
<circle cx="482.00" cy="113.10" r="0.85" fill="#9cbd5c" fill-opacity="0.4"/>
<circle cx="483.83" cy="118.54" r="0.85" fill="#9cbd5c" fill-opacity="0.4"/>
<circle cx="482.14" cy="96.33" r="0.85" fill="#9cbd5c" fill-opacity="0.4"/>
<circle cx="482.51" cy="112.87" r="0.85" fill="#9cbd5c" fill-opacity="0.4"/>
<circle cx="482.86" cy="113.81" r="0.85" fill="#9cbd5c" fill-opacity="0.4"/>
<circle cx="482.79" cy="117.35" r="0.85" fill="#9cbd5c" fill-opacity="0.4"/>
<circle cx="481.78" cy="107.61" r="0.85" fill="#9cbd5c" fill-opacity="0.4"/>
<circle cx="481.43" cy="102.23" r="0.85" fill="#9cbd5c" fill-opacity="0.4"/>
<circle cx="482.38" cy="111.14" r="0.85" fill="#9cbd5c" fill-opacity="0.4"/>
<circle cx="482.26" cy="118.40" r="0.85" fill="#9cbd5c" fill-opacity="0.4"/>
<circle cx="483.52" cy="107.86" r="0.85" fill="#9cbd5c" fill-opacity="0.4"/>
<circle cx="480.81" cy="122.00" r="0.85" fill="#9cbd5c" fill-opacity="0.4"/>
<circle cx="484.07" cy="109.16" r="0.85" fill="#9cbd5c" fill-opacity="0.4"/>
<circle cx="480.51" cy="129.93" r="0.85" fill="#9cbd5c" fill-opacity="0.4"/>
<circle cx="484.00" cy="108.53" r="0.85" fill="#9cbd5c" fill-opacity="0.4"/>
<circle cx="482.78" cy="134.31" r="0.85" fill="#9cbd5c" fill-opacity="0.4"/>
<circle cx="483.44" cy="115.76" r="0.85" fill="#9cbd5c" fill-opacity="0.4"/>
<circle cx="481.19" cy="102.79" r="0.85" fill="#9cbd5c" fill-opacity="0.4"/>
<circle cx="483.62" cy="129.25" r="0.85" fill="#9cbd5c" fill-opacity="0.4"/>
<circle cx="481.90" cy="116.08" r="0.85" fill="#9cbd5c" fill-opacity="0.4"/>
<circle cx="482.37" cy="121.86" r="0.85" fill="#9cbd5c" fill-opacity="0.4"/>
<circle cx="481.29" cy="105.17" r="0.85" fill="#9cbd5c" fill-opacity="0.4"/>
<circle cx="483.20" cy="116.99" r="0.85" fill="#9cbd5c" fill-opacity="0.4"/>
<circle cx="482.55" cy="115.18" r="0.85" fill="#9cbd5c" fill-opacity="0.4"/>
<circle cx="483.33" cy="108.55" r="0.85" fill="#9cbd5c" fill-opacity="0.4"/>
<circle cx="480.77" cy="141.68" r="0.85" fill="#9cbd5c" fill-opacity="0.4"/>
<circle cx="482.70" cy="118.80" r="0.85" fill="#9cbd5c" fill-opacity="0.4"/>
<circle cx="481.52" cy="89.59" r="0.85" fill="#9cbd5c" fill-opacity="0.4"/>
<circle cx="481.98" cy="104.30" r="0.85" fill="#9cbd5c" fill-opacity="0.4"/>
<circle cx="482.94" cy="96.46" r="0.85" fill="#9cbd5c" fill-opacity="0.4"/>
<circle cx="482.09" cy="102.86" r="0.85" fill="#9cbd5c" fill-opacity="0.4"/>
<circle cx="482.78" cy="108.11" r="0.85" fill="#9cbd5c" fill-opacity="0.4"/>
<circle cx="482.26" cy="112.74" r="0.85" fill="#9cbd5c" fill-opacity="0.4"/>
<circle cx="483.42" cy="113.97" r="0.85" fill="#9cbd5c" fill-opacity="0.4"/>
<circle cx="482.13" cy="139.02" r="0.85" fill="#9cbd5c" fill-opacity="0.4"/>
<circle cx="480.73" cy="119.32" r="0.85" fill="#9cbd5c" fill-opacity="0.4"/>
<circle cx="480.81" cy="128.11" r="0.85" fill="#9cbd5c" fill-opacity="0.4"/>
<circle cx="482.07" cy="104.91" r="0.85" fill="#9cbd5c" fill-opacity="0.4"/>
<circle cx="482.34" cy="114.43" r="0.85" fill="#9cbd5c" fill-opacity="0.4"/>
<circle cx="480.63" cy="133.88" r="0.85" fill="#9cbd5c" fill-opacity="0.4"/>
<circle cx="483.23" cy="117.29" r="0.85" fill="#9cbd5c" fill-opacity="0.4"/>
<circle cx="480.52" cy="114.78" r="0.85" fill="#9cbd5c" fill-opacity="0.4"/>
<circle cx="482.32" cy="92.14" r="0.85" fill="#9cbd5c" fill-opacity="0.4"/>
<circle cx="480.84" cy="139.24" r="0.85" fill="#9cbd5c" fill-opacity="0.4"/>
<circle cx="483.23" cy="145.32" r="0.85" fill="#9cbd5c" fill-opacity="0.4"/>
<circle cx="484.23" cy="115.66" r="0.85" fill="#9cbd5c" fill-opacity="0.4"/>
<circle cx="482.27" cy="101.56" r="0.85" fill="#9cbd5c" fill-opacity="0.4"/>
<circle cx="480.96" cy="146.42" r="0.85" fill="#9cbd5c" fill-opacity="0.4"/>
<circle cx="483.45" cy="101.62" r="0.85" fill="#9cbd5c" fill-opacity="0.4"/>
<circle cx="481.70" cy="116.85" r="0.85" fill="#9cbd5c" fill-opacity="0.4"/>
<line x1="473.1" y1="111.4" x2="491.5" y2="111.4" stroke="#2a2a2a" stroke-width="1.25"/>
<circle cx="482.3" cy="71.3" r="0.95" fill="#b0b0b0"/>
<circle cx="482.3" cy="56.6" r="0.95" fill="#b0b0b0"/>
<line x1="505.70" y1="80.8" x2="505.70" y2="140.7" stroke="#76604e" stroke-width="0.8"/>
<rect x="496.5" y="107.0" width="18.40" height="17.10" fill="#d9b49c" stroke="#76604e" stroke-width="0.9"/>
<circle cx="506.72" cy="111.68" r="0.85" fill="#9b5a2f" fill-opacity="0.4"/>
<circle cx="504.80" cy="130.36" r="0.85" fill="#9b5a2f" fill-opacity="0.4"/>
<circle cx="506.96" cy="139.40" r="0.85" fill="#9b5a2f" fill-opacity="0.4"/>
<circle cx="507.38" cy="124.34" r="0.85" fill="#9b5a2f" fill-opacity="0.4"/>
<circle cx="504.53" cy="127.11" r="0.85" fill="#9b5a2f" fill-opacity="0.4"/>
<circle cx="504.98" cy="112.53" r="0.85" fill="#9b5a2f" fill-opacity="0.4"/>
<circle cx="503.85" cy="130.77" r="0.85" fill="#9b5a2f" fill-opacity="0.4"/>
<circle cx="507.45" cy="117.40" r="0.85" fill="#9b5a2f" fill-opacity="0.4"/>
<circle cx="506.42" cy="121.59" r="0.85" fill="#9b5a2f" fill-opacity="0.4"/>
<circle cx="506.84" cy="120.76" r="0.85" fill="#9b5a2f" fill-opacity="0.4"/>
<circle cx="504.16" cy="108.61" r="0.85" fill="#9b5a2f" fill-opacity="0.4"/>
<circle cx="505.14" cy="94.01" r="0.85" fill="#9b5a2f" fill-opacity="0.4"/>
<circle cx="507.19" cy="110.01" r="0.85" fill="#9b5a2f" fill-opacity="0.4"/>
<circle cx="507.23" cy="96.25" r="0.85" fill="#9b5a2f" fill-opacity="0.4"/>
<circle cx="504.12" cy="107.52" r="0.85" fill="#9b5a2f" fill-opacity="0.4"/>
<circle cx="505.28" cy="133.97" r="0.85" fill="#9b5a2f" fill-opacity="0.4"/>
<circle cx="506.89" cy="113.01" r="0.85" fill="#9b5a2f" fill-opacity="0.4"/>
<circle cx="506.01" cy="109.87" r="0.85" fill="#9b5a2f" fill-opacity="0.4"/>
<circle cx="505.47" cy="98.42" r="0.85" fill="#9b5a2f" fill-opacity="0.4"/>
<circle cx="504.41" cy="132.55" r="0.85" fill="#9b5a2f" fill-opacity="0.4"/>
<circle cx="506.98" cy="113.72" r="0.85" fill="#9b5a2f" fill-opacity="0.4"/>
<circle cx="504.71" cy="109.42" r="0.85" fill="#9b5a2f" fill-opacity="0.4"/>
<circle cx="506.04" cy="87.62" r="0.85" fill="#9b5a2f" fill-opacity="0.4"/>
<circle cx="506.35" cy="82.44" r="0.85" fill="#9b5a2f" fill-opacity="0.4"/>
<circle cx="503.84" cy="113.57" r="0.85" fill="#9b5a2f" fill-opacity="0.4"/>
<circle cx="504.30" cy="114.69" r="0.85" fill="#9b5a2f" fill-opacity="0.4"/>
<circle cx="505.75" cy="102.59" r="0.85" fill="#9b5a2f" fill-opacity="0.4"/>
<circle cx="507.28" cy="103.80" r="0.85" fill="#9b5a2f" fill-opacity="0.4"/>
<circle cx="506.31" cy="120.81" r="0.85" fill="#9b5a2f" fill-opacity="0.4"/>
<circle cx="503.79" cy="121.45" r="0.85" fill="#9b5a2f" fill-opacity="0.4"/>
<circle cx="504.13" cy="127.24" r="0.85" fill="#9b5a2f" fill-opacity="0.4"/>
<circle cx="505.13" cy="114.12" r="0.85" fill="#9b5a2f" fill-opacity="0.4"/>
<circle cx="506.06" cy="116.94" r="0.85" fill="#9b5a2f" fill-opacity="0.4"/>
<circle cx="504.52" cy="132.52" r="0.85" fill="#9b5a2f" fill-opacity="0.4"/>
<circle cx="504.24" cy="102.39" r="0.85" fill="#9b5a2f" fill-opacity="0.4"/>
<circle cx="507.45" cy="102.54" r="0.85" fill="#9b5a2f" fill-opacity="0.4"/>
<circle cx="504.08" cy="114.23" r="0.85" fill="#9b5a2f" fill-opacity="0.4"/>
<circle cx="506.25" cy="122.00" r="0.85" fill="#9b5a2f" fill-opacity="0.4"/>
<circle cx="505.31" cy="131.08" r="0.85" fill="#9b5a2f" fill-opacity="0.4"/>
<circle cx="504.76" cy="95.90" r="0.85" fill="#9b5a2f" fill-opacity="0.4"/>
<circle cx="505.95" cy="134.35" r="0.85" fill="#9b5a2f" fill-opacity="0.4"/>
<circle cx="505.10" cy="115.38" r="0.85" fill="#9b5a2f" fill-opacity="0.4"/>
<circle cx="507.45" cy="104.49" r="0.85" fill="#9b5a2f" fill-opacity="0.4"/>
<circle cx="506.63" cy="101.67" r="0.85" fill="#9b5a2f" fill-opacity="0.4"/>
<circle cx="503.88" cy="114.19" r="0.85" fill="#9b5a2f" fill-opacity="0.4"/>
<circle cx="504.65" cy="99.64" r="0.85" fill="#9b5a2f" fill-opacity="0.4"/>
<circle cx="503.93" cy="111.04" r="0.85" fill="#9b5a2f" fill-opacity="0.4"/>
<circle cx="505.90" cy="114.31" r="0.85" fill="#9b5a2f" fill-opacity="0.4"/>
<circle cx="507.46" cy="111.69" r="0.85" fill="#9b5a2f" fill-opacity="0.4"/>
<circle cx="506.13" cy="119.85" r="0.85" fill="#9b5a2f" fill-opacity="0.4"/>
<circle cx="505.73" cy="121.31" r="0.85" fill="#9b5a2f" fill-opacity="0.4"/>
<circle cx="504.40" cy="97.46" r="0.85" fill="#9b5a2f" fill-opacity="0.4"/>
<circle cx="504.94" cy="93.62" r="0.85" fill="#9b5a2f" fill-opacity="0.4"/>
<circle cx="507.26" cy="112.50" r="0.85" fill="#9b5a2f" fill-opacity="0.4"/>
<circle cx="506.83" cy="118.17" r="0.85" fill="#9b5a2f" fill-opacity="0.4"/>
<circle cx="507.08" cy="113.55" r="0.85" fill="#9b5a2f" fill-opacity="0.4"/>
<circle cx="506.68" cy="112.33" r="0.85" fill="#9b5a2f" fill-opacity="0.4"/>
<circle cx="505.51" cy="91.01" r="0.85" fill="#9b5a2f" fill-opacity="0.4"/>
<circle cx="504.60" cy="118.98" r="0.85" fill="#9b5a2f" fill-opacity="0.4"/>
<circle cx="503.86" cy="122.08" r="0.85" fill="#9b5a2f" fill-opacity="0.4"/>
<circle cx="505.04" cy="120.27" r="0.85" fill="#9b5a2f" fill-opacity="0.4"/>
<circle cx="507.08" cy="113.85" r="0.85" fill="#9b5a2f" fill-opacity="0.4"/>
<circle cx="506.55" cy="91.94" r="0.85" fill="#9b5a2f" fill-opacity="0.4"/>
<circle cx="505.44" cy="112.08" r="0.85" fill="#9b5a2f" fill-opacity="0.4"/>
<circle cx="506.85" cy="131.91" r="0.85" fill="#9b5a2f" fill-opacity="0.4"/>
<circle cx="506.27" cy="102.83" r="0.85" fill="#9b5a2f" fill-opacity="0.4"/>
<circle cx="507.56" cy="112.27" r="0.85" fill="#9b5a2f" fill-opacity="0.4"/>
<circle cx="503.76" cy="119.94" r="0.85" fill="#9b5a2f" fill-opacity="0.4"/>
<circle cx="506.68" cy="113.22" r="0.85" fill="#9b5a2f" fill-opacity="0.4"/>
<circle cx="507.48" cy="124.34" r="0.85" fill="#9b5a2f" fill-opacity="0.4"/>
<line x1="496.5" y1="113.9" x2="514.9" y2="113.9" stroke="#2a2a2a" stroke-width="1.25"/>
<rect x="420" y="4" width="2" height="161" fill="#d4d4d4"/>
<line x1="319.8" y1="60.52" x2="322" y2="60.52" stroke="#555" stroke-width="0.8"/>
<text x="318.5" y="63.120000000000005" font-size="7.3" text-anchor="end" fill="#333" stroke="#333" stroke-width="0.18" style="" >4</text>
<line x1="319.8" y1="89.26" x2="322" y2="89.26" stroke="#555" stroke-width="0.8"/>
<text x="318.5" y="91.86" font-size="7.3" text-anchor="end" fill="#333" stroke="#333" stroke-width="0.18" style="" >2</text>
<line x1="319.8" y1="118.00" x2="322" y2="118.00" stroke="#555" stroke-width="0.8"/>
<text x="318.5" y="120.6" font-size="7.3" text-anchor="end" fill="#333" stroke="#333" stroke-width="0.18" style="" >0</text>
<line x1="319.8" y1="146.74" x2="322" y2="146.74" stroke="#555" stroke-width="0.8"/>
<text x="318.5" y="149.34" font-size="7.3" text-anchor="end" fill="#333" stroke="#333" stroke-width="0.18" style="" >&#8722;2</text>
<text transform="translate(305.2,103.6) rotate(-90)" font-size="7.3" text-anchor="middle" fill="#111" stroke="#111" stroke-width="0.18">Gene expression (<tspan font-style="italic">z</tspan>-score)</text>
<text transform="translate(337.90,170.1) rotate(-37)" font-size="7.3" text-anchor="end" fill="#111" stroke="#111" stroke-width="0.18">Quiescent</text>
<text transform="translate(363.50,170.1) rotate(-37)" font-size="7.3" text-anchor="end" fill="#111" stroke="#111" stroke-width="0.18">Glycolytic</text>
<text transform="translate(387.60,170.1) rotate(-37)" font-size="7.3" text-anchor="end" fill="#111" stroke="#111" stroke-width="0.18">Cholesterogenic</text>
<text transform="translate(409.70,170.1) rotate(-37)" font-size="7.3" text-anchor="end" fill="#111" stroke="#111" stroke-width="0.18">Mixed</text>
<text transform="translate(437.70,170.1) rotate(-37)" font-size="7.3" text-anchor="end" fill="#111" stroke="#111" stroke-width="0.18">Quiescent</text>
<text transform="translate(463.10,170.1) rotate(-37)" font-size="7.3" text-anchor="end" fill="#111" stroke="#111" stroke-width="0.18">Glycolytic</text>
<text transform="translate(487.30,170.1) rotate(-37)" font-size="7.3" text-anchor="end" fill="#111" stroke="#111" stroke-width="0.18">Cholesterogenic</text>
<text transform="translate(509.50,170.1) rotate(-37)" font-size="7.3" text-anchor="end" fill="#111" stroke="#111" stroke-width="0.18">Mixed</text>
<rect x="36.5" y="266.5" width="207.0" height="193.0" fill="#fff"/>
<line x1="78.70" y1="266.5" x2="78.70" y2="459.5" stroke="#dedede" stroke-width="0.8" stroke-dasharray="2.5,2.5"/>
<line x1="36.5" y1="419.30" x2="243.5" y2="419.30" stroke="#dedede" stroke-width="0.8" stroke-dasharray="2.5,2.5"/>
<line x1="122.70" y1="266.5" x2="122.70" y2="459.5" stroke="#dedede" stroke-width="0.8" stroke-dasharray="2.5,2.5"/>
<line x1="36.5" y1="378.80" x2="243.5" y2="378.80" stroke="#dedede" stroke-width="0.8" stroke-dasharray="2.5,2.5"/>
<line x1="166.70" y1="266.5" x2="166.70" y2="459.5" stroke="#dedede" stroke-width="0.8" stroke-dasharray="2.5,2.5"/>
<line x1="36.5" y1="338.30" x2="243.5" y2="338.30" stroke="#dedede" stroke-width="0.8" stroke-dasharray="2.5,2.5"/>
<line x1="210.70" y1="266.5" x2="210.70" y2="459.5" stroke="#dedede" stroke-width="0.8" stroke-dasharray="2.5,2.5"/>
<line x1="36.5" y1="297.80" x2="243.5" y2="297.80" stroke="#dedede" stroke-width="0.8" stroke-dasharray="2.5,2.5"/>
<polygon points="81,452 79,430 73,405 77,398 80,392 84,380 90,369 98.7,359.5 108.3,343 116.5,330.7 124.8,321.1 133,311.5 142.6,305.3 152.2,301.2 153.1,352 185,352 177.5,356 161,367 153,378 147,391 137,400 127.6,411.8 118.2,422.4 108.8,431.8 99.4,440 93.5,446 90,450" fill="#c7c7c7" stroke="#c7c7c7" stroke-width="1.5" stroke-linejoin="round"/>
<circle cx="126.4" cy="416.5" r="1.9" fill="#c7c7c7"/>
<circle cx="119.1" cy="437.9" r="1.9" fill="#cfcfcf"/>
<circle cx="141.4" cy="304.4" r="1.9" fill="#c7c7c7"/>
<circle cx="112.1" cy="430.7" r="1.9" fill="#c7c7c7"/>
<circle cx="144.4" cy="432.9" r="1.9" fill="#cfcfcf"/>
<circle cx="161.5" cy="391.4" r="1.9" fill="#cfcfcf"/>
<circle cx="160.2" cy="351.5" r="1.9" fill="#c7c7c7"/>
<circle cx="191.3" cy="326.8" r="1.9" fill="#cfcfcf"/>
<circle cx="188.5" cy="359.1" r="1.9" fill="#cfcfcf"/>
<circle cx="153.1" cy="309.6" r="1.9" fill="#c7c7c7"/>
<circle cx="105.7" cy="440.3" r="1.9" fill="#cfcfcf"/>
<circle cx="100.7" cy="439.0" r="1.9" fill="#c7c7c7"/>
<circle cx="150.0" cy="300.3" r="1.9" fill="#c7c7c7"/>
<circle cx="201.3" cy="365.2" r="1.9" fill="#cfcfcf"/>
<circle cx="124.6" cy="441.6" r="1.9" fill="#cfcfcf"/>
<circle cx="168.4" cy="371.1" r="1.9" fill="#cfcfcf"/>
<circle cx="158.5" cy="320.6" r="1.9" fill="#cfcfcf"/>
<circle cx="103.0" cy="344.7" r="1.9" fill="#cfcfcf"/>
<circle cx="83.2" cy="374.4" r="1.9" fill="#cfcfcf"/>
<circle cx="114.6" cy="427.1" r="1.9" fill="#c7c7c7"/>
<circle cx="94.0" cy="364.5" r="1.9" fill="#c7c7c7"/>
<circle cx="124.9" cy="433.9" r="1.9" fill="#cfcfcf"/>
<circle cx="95.0" cy="359.8" r="1.9" fill="#c7c7c7"/>
<circle cx="105.4" cy="435.8" r="1.9" fill="#c7c7c7"/>
<circle cx="160.1" cy="374.4" r="1.9" fill="#cfcfcf"/>
<circle cx="132.8" cy="407.0" r="1.9" fill="#c7c7c7"/>
<circle cx="158.1" cy="343.0" r="1.9" fill="#cfcfcf"/>
<circle cx="78.4" cy="371.5" r="1.9" fill="#cfcfcf"/>
<circle cx="190.8" cy="358.3" r="1.9" fill="#cfcfcf"/>
<circle cx="187.6" cy="359.9" r="1.9" fill="#cfcfcf"/>
<circle cx="100.9" cy="347.6" r="1.9" fill="#cfcfcf"/>
<circle cx="192.0" cy="358.8" r="1.9" fill="#cfcfcf"/>
<circle cx="100.3" cy="440.9" r="1.9" fill="#c7c7c7"/>
<circle cx="134.3" cy="307.9" r="1.9" fill="#c7c7c7"/>
<circle cx="164.3" cy="369.2" r="1.9" fill="#cfcfcf"/>
<circle cx="153.0" cy="311.3" r="1.9" fill="#c7c7c7"/>
<circle cx="183.9" cy="352.9" r="1.9" fill="#c7c7c7"/>
<circle cx="116.6" cy="428.7" r="1.9" fill="#cfcfcf"/>
<circle cx="187.5" cy="369.2" r="1.9" fill="#cfcfcf"/>
<circle cx="154.2" cy="321.7" r="1.9" fill="#c7c7c7"/>
<circle cx="159.3" cy="309.5" r="1.9" fill="#cfcfcf"/>
<circle cx="115.1" cy="432.6" r="1.9" fill="#cfcfcf"/>
<circle cx="157.6" cy="378.1" r="1.9" fill="#cfcfcf"/>
<circle cx="127.0" cy="420.6" r="1.9" fill="#cfcfcf"/>
<circle cx="164.9" cy="395.4" r="1.9" fill="#cfcfcf"/>
<circle cx="154.5" cy="336.6" r="1.9" fill="#c7c7c7"/>
<circle cx="127.1" cy="414.6" r="1.9" fill="#c7c7c7"/>
<circle cx="130.8" cy="414.0" r="1.9" fill="#cfcfcf"/>
<circle cx="143.1" cy="403.0" r="1.9" fill="#cfcfcf"/>
<circle cx="117.4" cy="328.6" r="1.9" fill="#c7c7c7"/>
<circle cx="124.5" cy="320.8" r="1.9" fill="#c7c7c7"/>
<circle cx="88.2" cy="361.3" r="1.9" fill="#cfcfcf"/>
<circle cx="153.6" cy="342.2" r="1.9" fill="#c7c7c7"/>
<circle cx="175.2" cy="359.0" r="1.9" fill="#c7c7c7"/>
<circle cx="141.9" cy="399.8" r="1.9" fill="#cfcfcf"/>
<circle cx="169.3" cy="374.4" r="1.9" fill="#cfcfcf"/>
<circle cx="181.8" cy="337.4" r="1.9" fill="#cfcfcf"/>
<circle cx="189.0" cy="349.8" r="1.9" fill="#cfcfcf"/>
<circle cx="95.7" cy="356.9" r="1.9" fill="#cfcfcf"/>
<circle cx="154.8" cy="341.7" r="1.9" fill="#c7c7c7"/>
<circle cx="158.5" cy="374.2" r="1.9" fill="#c7c7c7"/>
<circle cx="106.1" cy="436.4" r="1.9" fill="#c7c7c7"/>
<circle cx="96.7" cy="443.5" r="1.9" fill="#c7c7c7"/>
<circle cx="113.0" cy="334.3" r="1.9" fill="#c7c7c7"/>
<circle cx="136.3" cy="420.7" r="1.9" fill="#cfcfcf"/>
<circle cx="99.6" cy="443.0" r="1.9" fill="#c7c7c7"/>
<circle cx="132.8" cy="405.5" r="1.9" fill="#c7c7c7"/>
<circle cx="174.2" cy="359.2" r="1.9" fill="#c7c7c7"/>
<circle cx="166.3" cy="370.5" r="1.9" fill="#cfcfcf"/>
<circle cx="99.1" cy="449.4" r="1.9" fill="#cfcfcf"/>
<circle cx="78.5" cy="378.4" r="1.9" fill="#cfcfcf"/>
<circle cx="165.5" cy="370.5" r="1.9" fill="#cfcfcf"/>
<circle cx="177.2" cy="357.1" r="1.9" fill="#c7c7c7"/>
<circle cx="139.4" cy="306.9" r="1.9" fill="#c7c7c7"/>
<circle cx="142.8" cy="397.1" r="1.9" fill="#c7c7c7"/>
<circle cx="114.2" cy="449.2" r="1.9" fill="#cfcfcf"/>
<circle cx="152.2" cy="300.6" r="1.9" fill="#c7c7c7"/>
<circle cx="92.1" cy="361.9" r="1.9" fill="#cfcfcf"/>
<circle cx="164.3" cy="375.4" r="1.9" fill="#cfcfcf"/>
<circle cx="186.7" cy="345.9" r="1.9" fill="#cfcfcf"/>
<circle cx="151.6" cy="384.3" r="1.9" fill="#c7c7c7"/>
<circle cx="168.4" cy="349.1" r="1.9" fill="#c7c7c7"/>
<circle cx="111.5" cy="430.6" r="1.9" fill="#c7c7c7"/>
<circle cx="103.8" cy="445.6" r="1.9" fill="#cfcfcf"/>
<circle cx="122.1" cy="430.2" r="1.9" fill="#cfcfcf"/>
<circle cx="162.0" cy="308.9" r="1.9" fill="#cfcfcf"/>
<circle cx="181.2" cy="343.7" r="1.9" fill="#cfcfcf"/>
<circle cx="164.8" cy="365.9" r="1.9" fill="#c7c7c7"/>
<circle cx="79.5" cy="392.4" r="1.9" fill="#c7c7c7"/>
<circle cx="175.0" cy="351.1" r="1.9" fill="#c7c7c7"/>
<circle cx="87.9" cy="370.3" r="1.9" fill="#c7c7c7"/>
<circle cx="149.7" cy="388.5" r="1.9" fill="#c7c7c7"/>
<circle cx="120.8" cy="316.1" r="1.9" fill="#cfcfcf"/>
<circle cx="149.1" cy="388.2" r="1.9" fill="#c7c7c7"/>
<circle cx="108.1" cy="437.4" r="1.9" fill="#cfcfcf"/>
<circle cx="125.9" cy="415.8" r="1.9" fill="#c7c7c7"/>
<circle cx="95.3" cy="362.6" r="1.9" fill="#c7c7c7"/>
<circle cx="183.2" cy="355.0" r="1.9" fill="#c7c7c7"/>
<circle cx="183.4" cy="354.2" r="1.9" fill="#c7c7c7"/>
<circle cx="171.3" cy="341.8" r="1.9" fill="#cfcfcf"/>
<circle cx="104.1" cy="450.0" r="1.9" fill="#cfcfcf"/>
<circle cx="117.9" cy="435.5" r="1.9" fill="#cfcfcf"/>
<circle cx="153.3" cy="378.7" r="1.9" fill="#c7c7c7"/>
<circle cx="187.0" cy="349.0" r="1.9" fill="#cfcfcf"/>
<circle cx="110.0" cy="441.1" r="1.9" fill="#cfcfcf"/>
<circle cx="184.9" cy="371.7" r="1.9" fill="#cfcfcf"/>
<circle cx="69.1" cy="389.2" r="1.9" fill="#cfcfcf"/>
<circle cx="170.4" cy="350.9" r="1.9" fill="#c7c7c7"/>
<circle cx="160.9" cy="388.0" r="1.9" fill="#cfcfcf"/>
<circle cx="154.5" cy="391.5" r="1.9" fill="#cfcfcf"/>
<circle cx="90.9" cy="365.9" r="1.9" fill="#c7c7c7"/>
<circle cx="153.2" cy="311.1" r="1.9" fill="#c7c7c7"/>
<circle cx="121.1" cy="422.1" r="1.9" fill="#c7c7c7"/>
<circle cx="154.9" cy="324.7" r="1.9" fill="#c7c7c7"/>
<circle cx="186.5" cy="356.9" r="1.9" fill="#cfcfcf"/>
<circle cx="114.3" cy="328.2" r="1.9" fill="#cfcfcf"/>
<circle cx="117.0" cy="323.5" r="1.9" fill="#cfcfcf"/>
<circle cx="143.1" cy="404.9" r="1.9" fill="#cfcfcf"/>
<circle cx="97.6" cy="359.8" r="1.9" fill="#c7c7c7"/>
<circle cx="150.4" cy="388.1" r="1.9" fill="#c7c7c7"/>
<circle cx="141.6" cy="400.7" r="1.9" fill="#cfcfcf"/>
<circle cx="166.1" cy="348.2" r="1.9" fill="#cfcfcf"/>
<circle cx="130.8" cy="312.3" r="1.9" fill="#c7c7c7"/>
<circle cx="139.8" cy="412.1" r="1.9" fill="#cfcfcf"/>
<circle cx="176.1" cy="361.2" r="1.9" fill="#cfcfcf"/>
<circle cx="153.2" cy="319.9" r="1.9" fill="#c7c7c7"/>
<circle cx="156.7" cy="320.4" r="1.9" fill="#cfcfcf"/>
<circle cx="164.2" cy="351.8" r="1.9" fill="#c7c7c7"/>
<circle cx="157.6" cy="330.0" r="1.9" fill="#cfcfcf"/>
<circle cx="152.4" cy="387.9" r="1.9" fill="#cfcfcf"/>
<circle cx="116.2" cy="424.7" r="1.9" fill="#c7c7c7"/>
<circle cx="164.4" cy="379.1" r="1.9" fill="#cfcfcf"/>
<circle cx="161.7" cy="323.7" r="1.9" fill="#cfcfcf"/>
<circle cx="151.0" cy="391.2" r="1.9" fill="#cfcfcf"/>
<circle cx="178.0" cy="343.7" r="1.9" fill="#cfcfcf"/>
<circle cx="104.1" cy="337.5" r="1.9" fill="#cfcfcf"/>
<circle cx="82.8" cy="381.7" r="1.9" fill="#c7c7c7"/>
<circle cx="153.8" cy="318.2" r="1.9" fill="#c7c7c7"/>
<circle cx="95.4" cy="362.0" r="1.9" fill="#c7c7c7"/>
<circle cx="154.0" cy="388.8" r="1.9" fill="#cfcfcf"/>
<circle cx="189.0" cy="339.9" r="1.9" fill="#cfcfcf"/>
<circle cx="106.1" cy="449.7" r="1.9" fill="#cfcfcf"/>
<circle cx="179.3" cy="347.9" r="1.9" fill="#cfcfcf"/>
<circle cx="134.8" cy="420.2" r="1.9" fill="#cfcfcf"/>
<circle cx="113.9" cy="443.2" r="1.9" fill="#cfcfcf"/>
<circle cx="75.3" cy="397.5" r="1.9" fill="#c7c7c7"/>
<circle cx="153.4" cy="315.8" r="1.9" fill="#c7c7c7"/>
<circle cx="154.7" cy="322.2" r="1.9" fill="#c7c7c7"/>
<circle cx="136.6" cy="415.5" r="1.9" fill="#cfcfcf"/>
<circle cx="120.4" cy="420.9" r="1.9" fill="#c7c7c7"/>
<circle cx="144.9" cy="394.8" r="1.9" fill="#c7c7c7"/>
<circle cx="127.9" cy="414.4" r="1.9" fill="#c7c7c7"/>
<circle cx="143.4" cy="300.5" r="1.9" fill="#cfcfcf"/>
<circle cx="154.8" cy="406.2" r="1.9" fill="#cfcfcf"/>
<circle cx="150.1" cy="385.3" r="1.9" fill="#c7c7c7"/>
<circle cx="155.0" cy="319.7" r="1.9" fill="#c7c7c7"/>
<circle cx="188.9" cy="352.4" r="1.9" fill="#cfcfcf"/>
<circle cx="157.7" cy="371.8" r="1.9" fill="#c7c7c7"/>
<circle cx="122.3" cy="421.1" r="1.9" fill="#c7c7c7"/>
<circle cx="148.9" cy="388.8" r="1.9" fill="#c7c7c7"/>
<circle cx="161.1" cy="369.8" r="1.9" fill="#c7c7c7"/>
<circle cx="97.8" cy="442.0" r="1.9" fill="#c7c7c7"/>
<circle cx="168.1" cy="351.3" r="1.9" fill="#c7c7c7"/>
<circle cx="164.4" cy="394.2" r="1.9" fill="#cfcfcf"/>
<circle cx="118.1" cy="444.4" r="1.9" fill="#cfcfcf"/>
<circle cx="162.6" cy="366.2" r="1.9" fill="#c7c7c7"/>
<circle cx="159.1" cy="379.6" r="1.9" fill="#cfcfcf"/>
<circle cx="153.9" cy="350.7" r="1.9" fill="#c7c7c7"/>
<circle cx="137.9" cy="429.6" r="1.9" fill="#cfcfcf"/>
<circle cx="153.4" cy="345.9" r="1.9" fill="#c7c7c7"/>
<circle cx="178.7" cy="366.8" r="1.9" fill="#cfcfcf"/>
<circle cx="108.4" cy="334.2" r="1.9" fill="#cfcfcf"/>
<circle cx="152.8" cy="316.0" r="1.9" fill="#c7c7c7"/>
<circle cx="181.1" cy="335.8" r="1.9" fill="#cfcfcf"/>
<circle cx="121.7" cy="323.3" r="1.9" fill="#c7c7c7"/>
<circle cx="162.9" cy="365.8" r="1.9" fill="#c7c7c7"/>
<circle cx="135.7" cy="404.0" r="1.9" fill="#c7c7c7"/>
<circle cx="103.0" cy="440.7" r="1.9" fill="#c7c7c7"/>
<circle cx="185.1" cy="353.7" r="1.9" fill="#c7c7c7"/>
<circle cx="157.9" cy="376.8" r="1.9" fill="#cfcfcf"/>
<circle cx="122.8" cy="322.3" r="1.9" fill="#c7c7c7"/>
<circle cx="150.4" cy="402.3" r="1.9" fill="#cfcfcf"/>
<circle cx="121.0" cy="420.4" r="1.9" fill="#c7c7c7"/>
<circle cx="147.4" cy="410.1" r="1.9" fill="#cfcfcf"/>
<circle cx="96.8" cy="357.8" r="1.9" fill="#c7c7c7"/>
<circle cx="173.6" cy="350.1" r="1.9" fill="#c7c7c7"/>
<circle cx="163.7" cy="350.3" r="1.9" fill="#c7c7c7"/>
<circle cx="142.0" cy="399.0" r="1.9" fill="#c7c7c7"/>
<circle cx="159.7" cy="346.3" r="1.9" fill="#cfcfcf"/>
<circle cx="184.2" cy="341.7" r="1.9" fill="#cfcfcf"/>
<circle cx="174.6" cy="349.8" r="1.9" fill="#c7c7c7"/>
<circle cx="151.5" cy="294.9" r="1.9" fill="#cfcfcf"/>
<circle cx="169.0" cy="366.2" r="1.9" fill="#cfcfcf"/>
<circle cx="137.4" cy="415.4" r="1.9" fill="#cfcfcf"/>
<circle cx="88.4" cy="367.5" r="1.9" fill="#c7c7c7"/>
<circle cx="104.2" cy="347.0" r="1.9" fill="#c7c7c7"/>
<circle cx="120.1" cy="426.2" r="1.9" fill="#cfcfcf"/>
<circle cx="166.3" cy="377.7" r="1.9" fill="#cfcfcf"/>
<circle cx="154.7" cy="386.8" r="1.9" fill="#cfcfcf"/>
<circle cx="111.8" cy="436.7" r="1.9" fill="#cfcfcf"/>
<circle cx="157.6" cy="386.9" r="1.9" fill="#cfcfcf"/>
<circle cx="118.9" cy="430.7" r="1.9" fill="#cfcfcf"/>
<circle cx="151.0" cy="384.7" r="1.9" fill="#c7c7c7"/>
<circle cx="170.2" cy="361.5" r="1.9" fill="#c7c7c7"/>
<circle cx="155.6" cy="349.8" r="1.9" fill="#c7c7c7"/>
<circle cx="160.7" cy="375.7" r="1.9" fill="#cfcfcf"/>
<circle cx="153.4" cy="303.2" r="1.9" fill="#c7c7c7"/>
<circle cx="163.6" cy="375.6" r="1.9" fill="#cfcfcf"/>
<circle cx="151.1" cy="389.4" r="1.9" fill="#cfcfcf"/>
<circle cx="154.1" cy="344.6" r="1.9" fill="#c7c7c7"/>
<circle cx="180.5" cy="340.7" r="1.9" fill="#cfcfcf"/>
<circle cx="99.7" cy="439.8" r="1.9" fill="#c7c7c7"/>
<circle cx="158.5" cy="378.0" r="1.9" fill="#cfcfcf"/>
<circle cx="149.1" cy="394.2" r="1.9" fill="#cfcfcf"/>
<circle cx="107.5" cy="440.0" r="1.9" fill="#cfcfcf"/>
<circle cx="169.1" cy="367.4" r="1.9" fill="#cfcfcf"/>
<circle cx="123.2" cy="320.5" r="1.9" fill="#c7c7c7"/>
<circle cx="167.8" cy="351.7" r="1.9" fill="#c7c7c7"/>
<circle cx="152.7" cy="318.5" r="1.9" fill="#c7c7c7"/>
<circle cx="179.7" cy="351.3" r="1.9" fill="#c7c7c7"/>
<circle cx="147.0" cy="405.7" r="1.9" fill="#cfcfcf"/>
<circle cx="173.4" cy="397.4" r="1.9" fill="#cfcfcf"/>
<circle cx="116.0" cy="329.4" r="1.9" fill="#c7c7c7"/>
<circle cx="159.7" cy="375.7" r="1.9" fill="#cfcfcf"/>
<circle cx="172.6" cy="362.9" r="1.9" fill="#cfcfcf"/>
<circle cx="158.8" cy="350.0" r="1.9" fill="#c7c7c7"/>
<circle cx="137.5" cy="400.3" r="1.9" fill="#c7c7c7"/>
<circle cx="144.3" cy="300.3" r="1.9" fill="#cfcfcf"/>
<circle cx="171.5" cy="412.5" r="1.9" fill="#cfcfcf"/>
<circle cx="100.8" cy="447.4" r="1.9" fill="#cfcfcf"/>
<circle cx="163.9" cy="375.8" r="1.9" fill="#cfcfcf"/>
<circle cx="154.1" cy="329.4" r="1.9" fill="#c7c7c7"/>
<circle cx="181.9" cy="344.7" r="1.9" fill="#cfcfcf"/>
<circle cx="98.9" cy="446.2" r="1.9" fill="#cfcfcf"/>
<circle cx="139.4" cy="405.2" r="1.9" fill="#cfcfcf"/>
<circle cx="101.2" cy="440.4" r="1.9" fill="#c7c7c7"/>
<circle cx="108.5" cy="339.2" r="1.9" fill="#c7c7c7"/>
<circle cx="153.9" cy="313.3" r="1.9" fill="#c7c7c7"/>
<circle cx="111.4" cy="440.1" r="1.9" fill="#cfcfcf"/>
<circle cx="164.7" cy="378.9" r="1.9" fill="#cfcfcf"/>
<circle cx="176.5" cy="358.7" r="1.9" fill="#c7c7c7"/>
<circle cx="78.3" cy="391.5" r="1.9" fill="#c7c7c7"/>
<circle cx="121.8" cy="435.8" r="1.9" fill="#cfcfcf"/>
<circle cx="121.4" cy="433.8" r="1.9" fill="#cfcfcf"/>
<circle cx="176.9" cy="356.9" r="1.9" fill="#c7c7c7"/>
<circle cx="107.1" cy="434.2" r="1.9" fill="#c7c7c7"/>
<circle cx="171.8" cy="365.6" r="1.9" fill="#cfcfcf"/>
<circle cx="153.9" cy="319.3" r="1.9" fill="#c7c7c7"/>
<circle cx="146.5" cy="302.1" r="1.9" fill="#c7c7c7"/>
<circle cx="99.0" cy="441.3" r="1.9" fill="#c7c7c7"/>
<circle cx="135.9" cy="406.0" r="1.9" fill="#c7c7c7"/>
<circle cx="152.6" cy="303.8" r="1.9" fill="#c7c7c7"/>
<circle cx="180.2" cy="349.9" r="1.9" fill="#c7c7c7"/>
<circle cx="185.8" cy="348.3" r="1.9" fill="#cfcfcf"/>
<circle cx="120.8" cy="323.8" r="1.9" fill="#c7c7c7"/>
<circle cx="150.4" cy="298.8" r="1.9" fill="#c7c7c7"/>
<circle cx="120.8" cy="426.0" r="1.9" fill="#cfcfcf"/>
<circle cx="141.8" cy="397.0" r="1.9" fill="#c7c7c7"/>
<circle cx="116.5" cy="425.2" r="1.9" fill="#c7c7c7"/>
<circle cx="123.4" cy="320.5" r="1.9" fill="#c7c7c7"/>
<circle cx="125.0" cy="432.4" r="1.9" fill="#cfcfcf"/>
<circle cx="118.5" cy="422.1" r="1.9" fill="#c7c7c7"/>
<circle cx="98.3" cy="441.6" r="1.9" fill="#c7c7c7"/>
<circle cx="96.9" cy="356.8" r="1.9" fill="#c7c7c7"/>
<circle cx="177.2" cy="350.2" r="1.9" fill="#c7c7c7"/>
<circle cx="163.7" cy="348.1" r="1.9" fill="#cfcfcf"/>
<circle cx="129.1" cy="314.4" r="1.9" fill="#c7c7c7"/>
<circle cx="154.5" cy="323.3" r="1.9" fill="#c7c7c7"/>
<circle cx="132.6" cy="411.3" r="1.9" fill="#cfcfcf"/>
<circle cx="121.5" cy="431.3" r="1.9" fill="#cfcfcf"/>
<circle cx="143.1" cy="400.3" r="1.9" fill="#cfcfcf"/>
<circle cx="101.4" cy="446.8" r="1.9" fill="#cfcfcf"/>
<circle cx="147.0" cy="407.8" r="1.9" fill="#cfcfcf"/>
<circle cx="118.8" cy="434.7" r="1.9" fill="#cfcfcf"/>
<circle cx="171.2" cy="367.5" r="1.9" fill="#cfcfcf"/>
<circle cx="183.7" cy="343.6" r="1.9" fill="#cfcfcf"/>
<circle cx="157.1" cy="401.9" r="1.9" fill="#cfcfcf"/>
<circle cx="151.6" cy="406.5" r="1.9" fill="#cfcfcf"/>
<circle cx="164.0" cy="381.0" r="1.9" fill="#cfcfcf"/>
<circle cx="153.4" cy="399.2" r="1.9" fill="#cfcfcf"/>
<circle cx="110.9" cy="432.1" r="1.9" fill="#c7c7c7"/>
<circle cx="171.3" cy="350.9" r="1.9" fill="#c7c7c7"/>
<circle cx="96.7" cy="446.7" r="1.9" fill="#c7c7c7"/>
<circle cx="155.5" cy="310.3" r="1.9" fill="#cfcfcf"/>
<circle cx="190.4" cy="354.8" r="1.9" fill="#cfcfcf"/>
<circle cx="114.5" cy="430.1" r="1.9" fill="#c7c7c7"/>
<circle cx="162.4" cy="382.7" r="1.9" fill="#cfcfcf"/>
<circle cx="153.1" cy="336.9" r="1.9" fill="#c7c7c7"/>
<circle cx="155.0" cy="378.9" r="1.9" fill="#c7c7c7"/>
<circle cx="173.2" cy="361.4" r="1.9" fill="#c7c7c7"/>
<circle cx="178.5" cy="359.2" r="1.9" fill="#cfcfcf"/>
<circle cx="132.6" cy="410.8" r="1.9" fill="#cfcfcf"/>
<circle cx="199.2" cy="334.6" r="1.9" fill="#cfcfcf"/>
<circle cx="107.4" cy="341.5" r="1.9" fill="#c7c7c7"/>
<circle cx="153.0" cy="381.5" r="1.9" fill="#c7c7c7"/>
<circle cx="109.2" cy="432.2" r="1.9" fill="#c7c7c7"/>
<circle cx="173.8" cy="350.2" r="1.9" fill="#c7c7c7"/>
<circle cx="167.0" cy="347.7" r="1.9" fill="#cfcfcf"/>
<circle cx="161.6" cy="367.0" r="1.9" fill="#c7c7c7"/>
<circle cx="157.0" cy="402.1" r="1.9" fill="#cfcfcf"/>
<circle cx="196.2" cy="355.4" r="1.9" fill="#cfcfcf"/>
<circle cx="140.1" cy="399.6" r="1.9" fill="#c7c7c7"/>
<circle cx="129.1" cy="418.8" r="1.9" fill="#cfcfcf"/>
<circle cx="155.0" cy="330.1" r="1.9" fill="#c7c7c7"/>
<circle cx="150.2" cy="392.9" r="1.9" fill="#cfcfcf"/>
<circle cx="172.5" cy="346.9" r="1.9" fill="#cfcfcf"/>
<circle cx="176.6" cy="349.2" r="1.9" fill="#c7c7c7"/>
<circle cx="184.1" cy="346.8" r="1.9" fill="#cfcfcf"/>
<circle cx="117.0" cy="431.3" r="1.9" fill="#cfcfcf"/>
<circle cx="156.4" cy="302.7" r="1.9" fill="#cfcfcf"/>
<circle cx="153.8" cy="384.5" r="1.9" fill="#cfcfcf"/>
<circle cx="144.3" cy="398.3" r="1.9" fill="#cfcfcf"/>
<circle cx="105.1" cy="440.7" r="1.9" fill="#cfcfcf"/>
<circle cx="183.8" cy="347.0" r="1.9" fill="#cfcfcf"/>
<circle cx="137.9" cy="405.2" r="1.9" fill="#cfcfcf"/>
<circle cx="148.9" cy="399.8" r="1.9" fill="#cfcfcf"/>
<circle cx="136.3" cy="401.2" r="1.9" fill="#c7c7c7"/>
<circle cx="134.9" cy="407.9" r="1.9" fill="#cfcfcf"/>
<circle cx="121.1" cy="440.6" r="1.9" fill="#cfcfcf"/>
<circle cx="105.1" cy="330.6" r="1.9" fill="#cfcfcf"/>
<circle cx="157.7" cy="397.3" r="1.9" fill="#cfcfcf"/>
<circle cx="151.0" cy="388.3" r="1.9" fill="#c7c7c7"/>
<circle cx="88.9" cy="368.5" r="1.9" fill="#c7c7c7"/>
<circle cx="186.1" cy="355.8" r="1.9" fill="#cfcfcf"/>
<circle cx="99.1" cy="442.9" r="1.9" fill="#c7c7c7"/>
<circle cx="128.7" cy="315.7" r="1.9" fill="#c7c7c7"/>
<circle cx="76.0" cy="396.3" r="1.9" fill="#c7c7c7"/>
<circle cx="147.2" cy="418.1" r="1.9" fill="#cfcfcf"/>
<circle cx="172.5" cy="415.6" r="1.9" fill="#cfcfcf"/>
<circle cx="109.4" cy="433.9" r="1.9" fill="#c7c7c7"/>
<circle cx="154.0" cy="315.2" r="1.9" fill="#c7c7c7"/>
<circle cx="158.3" cy="349.3" r="1.9" fill="#c7c7c7"/>
<circle cx="170.4" cy="393.2" r="1.9" fill="#cfcfcf"/>
<circle cx="108.6" cy="437.0" r="1.9" fill="#cfcfcf"/>
<circle cx="121.9" cy="314.8" r="1.9" fill="#cfcfcf"/>
<circle cx="134.8" cy="407.2" r="1.9" fill="#c7c7c7"/>
<circle cx="162.5" cy="352.0" r="1.9" fill="#c7c7c7"/>
<circle cx="104.6" cy="440.1" r="1.9" fill="#cfcfcf"/>
<circle cx="158.0" cy="379.3" r="1.9" fill="#cfcfcf"/>
<circle cx="129.7" cy="448.5" r="1.9" fill="#cfcfcf"/>
<circle cx="104.0" cy="446.9" r="1.9" fill="#cfcfcf"/>
<circle cx="83.4" cy="380.2" r="1.9" fill="#c7c7c7"/>
<circle cx="141.2" cy="403.2" r="1.9" fill="#cfcfcf"/>
<circle cx="157.3" cy="327.2" r="1.9" fill="#cfcfcf"/>
<circle cx="179.5" cy="335.8" r="1.9" fill="#cfcfcf"/>
<circle cx="121.2" cy="420.8" r="1.9" fill="#c7c7c7"/>
<circle cx="143.6" cy="397.2" r="1.9" fill="#c7c7c7"/>
<circle cx="153.9" cy="384.6" r="1.9" fill="#cfcfcf"/>
<circle cx="134.5" cy="409.9" r="1.9" fill="#cfcfcf"/>
<circle cx="147.2" cy="396.0" r="1.9" fill="#cfcfcf"/>
<circle cx="101.6" cy="353.3" r="1.9" fill="#c7c7c7"/>
<circle cx="127.4" cy="313.5" r="1.9" fill="#c7c7c7"/>
<circle cx="153.2" cy="347.2" r="1.9" fill="#c7c7c7"/>
<circle cx="158.5" cy="381.2" r="1.9" fill="#cfcfcf"/>
<circle cx="161.0" cy="348.8" r="1.9" fill="#cfcfcf"/>
<circle cx="115.1" cy="427.2" r="1.9" fill="#c7c7c7"/>
<circle cx="169.9" cy="348.1" r="1.9" fill="#cfcfcf"/>
<circle cx="100.0" cy="441.7" r="1.9" fill="#c7c7c7"/>
<circle cx="81.0" cy="386.1" r="1.9" fill="#c7c7c7"/>
<circle cx="180.7" cy="366.3" r="1.9" fill="#cfcfcf"/>
<circle cx="168.0" cy="349.3" r="1.9" fill="#c7c7c7"/>
<circle cx="189.2" cy="354.5" r="1.9" fill="#cfcfcf"/>
<circle cx="180.3" cy="361.5" r="1.9" fill="#cfcfcf"/>
<circle cx="78.6" cy="388.8" r="1.9" fill="#c7c7c7"/>
<circle cx="120.6" cy="424.5" r="1.9" fill="#cfcfcf"/>
<circle cx="103.8" cy="437.6" r="1.9" fill="#c7c7c7"/>
<circle cx="98.7" cy="441.3" r="1.9" fill="#c7c7c7"/>
<circle cx="81.6" cy="385.0" r="1.9" fill="#c7c7c7"/>
<circle cx="188.1" cy="349.2" r="1.9" fill="#cfcfcf"/>
<circle cx="162.3" cy="376.7" r="1.9" fill="#cfcfcf"/>
<circle cx="168.0" cy="364.4" r="1.9" fill="#c7c7c7"/>
<circle cx="82.7" cy="380.6" r="1.9" fill="#c7c7c7"/>
<circle cx="158.4" cy="348.0" r="1.9" fill="#cfcfcf"/>
<circle cx="172.4" cy="381.5" r="1.9" fill="#cfcfcf"/>
<circle cx="141.8" cy="400.5" r="1.9" fill="#cfcfcf"/>
<circle cx="115.1" cy="432.1" r="1.9" fill="#cfcfcf"/>
<circle cx="146.9" cy="398.1" r="1.9" fill="#cfcfcf"/>
<circle cx="151.7" cy="382.3" r="1.9" fill="#c7c7c7"/>
<circle cx="169.4" cy="347.2" r="1.9" fill="#cfcfcf"/>
<circle cx="104.9" cy="438.5" r="1.9" fill="#c7c7c7"/>
<polygon points="154,352 154,301 156,298 162,297 168,298 171,302 172,310 172.5,322 173.5,336 175,346 176,352" fill="#7b1f5e" stroke="#7b1f5e" stroke-width="1.5" stroke-linejoin="round"/>
<circle cx="176.9" cy="329.6" r="2.0" fill="#7b1f5e"/>
<circle cx="207.3" cy="305.6" r="2.0" fill="#7b1f5e"/>
<circle cx="189.3" cy="342.6" r="2.0" fill="#7b1f5e"/>
<circle cx="175.4" cy="334.8" r="2.0" fill="#7b1f5e"/>
<circle cx="182.6" cy="339.5" r="2.0" fill="#7b1f5e"/>
<circle cx="180.1" cy="332.5" r="2.0" fill="#7b1f5e"/>
<circle cx="179.0" cy="342.9" r="2.0" fill="#7b1f5e"/>
<circle cx="188.2" cy="307.2" r="2.0" fill="#7b1f5e"/>
<circle cx="179.8" cy="299.8" r="2.0" fill="#7b1f5e"/>
<circle cx="177.5" cy="350.9" r="2.0" fill="#7b1f5e"/>
<circle cx="177.4" cy="317.4" r="2.0" fill="#7b1f5e"/>
<circle cx="173.5" cy="306.9" r="2.0" fill="#7b1f5e"/>
<circle cx="178.9" cy="350.0" r="2.0" fill="#7b1f5e"/>
<circle cx="173.7" cy="317.3" r="2.0" fill="#7b1f5e"/>
<circle cx="189.3" cy="301.3" r="2.0" fill="#7b1f5e"/>
<circle cx="172.8" cy="315.1" r="2.0" fill="#7b1f5e"/>
<circle cx="177.0" cy="333.6" r="2.0" fill="#7b1f5e"/>
<circle cx="173.1" cy="303.7" r="2.0" fill="#7b1f5e"/>
<circle cx="194.3" cy="346.5" r="2.0" fill="#7b1f5e"/>
<circle cx="182.1" cy="302.6" r="2.0" fill="#7b1f5e"/>
<circle cx="175.9" cy="345.0" r="2.0" fill="#7b1f5e"/>
<circle cx="198.2" cy="314.2" r="2.0" fill="#7b1f5e"/>
<circle cx="180.0" cy="310.1" r="2.0" fill="#7b1f5e"/>
<circle cx="176.9" cy="322.2" r="2.0" fill="#7b1f5e"/>
<circle cx="178.7" cy="329.2" r="2.0" fill="#7b1f5e"/>
<circle cx="179.3" cy="327.7" r="2.0" fill="#7b1f5e"/>
<circle cx="183.8" cy="319.3" r="2.0" fill="#7b1f5e"/>
<circle cx="197.5" cy="339.1" r="2.0" fill="#7b1f5e"/>
<circle cx="196.1" cy="329.0" r="2.0" fill="#7b1f5e"/>
<circle cx="185.5" cy="310.2" r="2.0" fill="#7b1f5e"/>
<circle cx="188.9" cy="344.0" r="2.0" fill="#7b1f5e"/>
<circle cx="177.6" cy="337.7" r="2.0" fill="#7b1f5e"/>
<circle cx="183.9" cy="329.4" r="2.0" fill="#7b1f5e"/>
<circle cx="177.2" cy="324.1" r="2.0" fill="#7b1f5e"/>
<circle cx="176.3" cy="317.1" r="2.0" fill="#7b1f5e"/>
<circle cx="193.6" cy="343.6" r="2.0" fill="#7b1f5e"/>
<circle cx="179.3" cy="339.3" r="2.0" fill="#7b1f5e"/>
<circle cx="175.1" cy="307.5" r="2.0" fill="#7b1f5e"/>
<circle cx="190.3" cy="340.9" r="2.0" fill="#7b1f5e"/>
<circle cx="194.0" cy="343.7" r="2.0" fill="#7b1f5e"/>
<circle cx="173.6" cy="298.9" r="2.0" fill="#7b1f5e"/>
<circle cx="179.3" cy="300.7" r="2.0" fill="#7b1f5e"/>
<circle cx="190.8" cy="306.3" r="2.0" fill="#7b1f5e"/>
<circle cx="177.0" cy="324.4" r="2.0" fill="#7b1f5e"/>
<circle cx="197.2" cy="297.5" r="2.0" fill="#7b1f5e"/>
<circle cx="173.0" cy="305.4" r="2.0" fill="#7b1f5e"/>
<circle cx="176.5" cy="342.3" r="2.0" fill="#7b1f5e"/>
<circle cx="191.7" cy="349.4" r="2.0" fill="#7b1f5e"/>
<circle cx="184.2" cy="322.3" r="2.0" fill="#7b1f5e"/>
<circle cx="180.0" cy="299.7" r="2.0" fill="#7b1f5e"/>
<circle cx="189.1" cy="299.3" r="2.0" fill="#7b1f5e"/>
<circle cx="173.6" cy="312.8" r="2.0" fill="#7b1f5e"/>
<circle cx="172.2" cy="296.2" r="2.0" fill="#7b1f5e"/>
<circle cx="178.6" cy="338.9" r="2.0" fill="#7b1f5e"/>
<circle cx="175.2" cy="302.5" r="2.0" fill="#7b1f5e"/>
<circle cx="172.6" cy="312.4" r="2.0" fill="#7b1f5e"/>
<circle cx="177.4" cy="342.4" r="2.0" fill="#7b1f5e"/>
<circle cx="177.6" cy="337.0" r="2.0" fill="#7b1f5e"/>
<circle cx="185.3" cy="310.4" r="2.0" fill="#7b1f5e"/>
<circle cx="183.0" cy="301.1" r="2.0" fill="#7b1f5e"/>
<circle cx="175.5" cy="344.1" r="2.0" fill="#7b1f5e"/>
<circle cx="190.1" cy="334.4" r="2.0" fill="#7b1f5e"/>
<circle cx="185.6" cy="316.0" r="2.0" fill="#7b1f5e"/>
<circle cx="178.9" cy="309.7" r="2.0" fill="#7b1f5e"/>
<circle cx="175.9" cy="346.2" r="2.0" fill="#7b1f5e"/>
<circle cx="174.0" cy="327.3" r="2.0" fill="#7b1f5e"/>
<circle cx="182.1" cy="325.6" r="2.0" fill="#7b1f5e"/>
<circle cx="198.4" cy="337.2" r="2.0" fill="#7b1f5e"/>
<circle cx="191.0" cy="307.8" r="2.0" fill="#7b1f5e"/>
<circle cx="183.2" cy="335.6" r="2.0" fill="#7b1f5e"/>
<circle cx="188.8" cy="319.9" r="2.0" fill="#7b1f5e"/>
<circle cx="181.0" cy="328.5" r="2.0" fill="#7b1f5e"/>
<circle cx="173.7" cy="332.2" r="2.0" fill="#7b1f5e"/>
<circle cx="177.3" cy="336.4" r="2.0" fill="#7b1f5e"/>
<circle cx="178.0" cy="348.5" r="2.0" fill="#7b1f5e"/>
<circle cx="174.6" cy="322.4" r="2.0" fill="#7b1f5e"/>
<circle cx="173.1" cy="317.8" r="2.0" fill="#7b1f5e"/>
<circle cx="176.4" cy="340.8" r="2.0" fill="#7b1f5e"/>
<circle cx="174.9" cy="332.1" r="2.0" fill="#7b1f5e"/>
<circle cx="177.3" cy="334.6" r="2.0" fill="#7b1f5e"/>
<circle cx="185.8" cy="297.7" r="2.0" fill="#7b1f5e"/>
<circle cx="198.0" cy="349.7" r="2.0" fill="#7b1f5e"/>
<circle cx="207.9" cy="323.3" r="2.0" fill="#7b1f5e"/>
<circle cx="173.3" cy="306.5" r="2.0" fill="#7b1f5e"/>
<circle cx="176.0" cy="308.3" r="2.0" fill="#7b1f5e"/>
<circle cx="164.6" cy="284.9" r="2.0" fill="#7b1f5e"/>
<circle cx="157.5" cy="297.6" r="2.0" fill="#7b1f5e"/>
<circle cx="160.4" cy="291.5" r="2.0" fill="#7b1f5e"/>
<circle cx="159.0" cy="297.5" r="2.0" fill="#7b1f5e"/>
<circle cx="157.2" cy="285.6" r="2.0" fill="#7b1f5e"/>
<circle cx="185.7" cy="292.9" r="2.0" fill="#7b1f5e"/>
<circle cx="177.7" cy="297.4" r="2.0" fill="#7b1f5e"/>
<circle cx="162.2" cy="295.5" r="2.0" fill="#7b1f5e"/>
<circle cx="166.7" cy="289.7" r="2.0" fill="#7b1f5e"/>
<circle cx="163.2" cy="289.2" r="2.0" fill="#7b1f5e"/>
<circle cx="176.5" cy="291.5" r="2.0" fill="#7b1f5e"/>
<circle cx="156.5" cy="290.0" r="2.0" fill="#7b1f5e"/>
<circle cx="208.6" cy="327.7" r="2.0" fill="#7b1f5e"/>
<circle cx="206.7" cy="322.8" r="2.0" fill="#7b1f5e"/>
<circle cx="209.6" cy="329.7" r="2.0" fill="#7b1f5e"/>
<circle cx="202.7" cy="324.8" r="2.0" fill="#7b1f5e"/>
<circle cx="198.8" cy="328.7" r="2.0" fill="#7b1f5e"/>
<circle cx="195.9" cy="331.7" r="2.0" fill="#7b1f5e"/>
<circle cx="192.9" cy="338.5" r="2.0" fill="#7b1f5e"/>
<circle cx="197.8" cy="338.5" r="2.0" fill="#7b1f5e"/>
<circle cx="202.7" cy="341.5" r="2.0" fill="#7b1f5e"/>
<circle cx="207.6" cy="345.4" r="2.0" fill="#7b1f5e"/>
<circle cx="196.9" cy="347.4" r="2.0" fill="#7b1f5e"/>
<circle cx="189.0" cy="345.4" r="2.0" fill="#7b1f5e"/>
<circle cx="190.0" cy="334.6" r="2.0" fill="#7b1f5e"/>
<circle cx="187.1" cy="332.6" r="2.0" fill="#7b1f5e"/>
<circle cx="186.1" cy="323.8" r="2.0" fill="#7b1f5e"/>
<circle cx="191.0" cy="317.9" r="2.0" fill="#7b1f5e"/>
<circle cx="187.1" cy="307.2" r="2.0" fill="#7b1f5e"/>
<circle cx="197.8" cy="312.1" r="2.0" fill="#7b1f5e"/>
<circle cx="194.9" cy="301.3" r="2.0" fill="#7b1f5e"/>
<circle cx="187.1" cy="290.5" r="2.0" fill="#7b1f5e"/>
<circle cx="182.2" cy="291.5" r="2.0" fill="#7b1f5e"/>
<circle cx="189.0" cy="301.3" r="2.0" fill="#7b1f5e"/>
<circle cx="180.2" cy="300.3" r="2.0" fill="#7b1f5e"/>
<circle cx="185.1" cy="307.2" r="2.0" fill="#7b1f5e"/>
<circle cx="182.2" cy="315.0" r="2.0" fill="#7b1f5e"/>
<circle cx="178.8" cy="274.8" r="2.0" fill="#7b1f5e"/>
<circle cx="168.0" cy="278.3" r="2.0" fill="#7b1f5e"/>
<circle cx="170.0" cy="283.6" r="2.0" fill="#7b1f5e"/>
<circle cx="159.6" cy="285.6" r="2.0" fill="#7b1f5e"/>
<circle cx="165.5" cy="288.5" r="2.0" fill="#7b1f5e"/>
<circle cx="172.9" cy="294.4" r="2.0" fill="#7b1f5e"/>
<circle cx="179.2" cy="296.4" r="2.0" fill="#7b1f5e"/>
<polygon points="92.2,404.5 92.2,444 90,448 86,450 80,449 76,444 74,438 73.5,425 73,408 75,404.5" fill="#7f88bf" stroke="#7f88bf" stroke-width="1.5" stroke-linejoin="round"/>
<circle cx="70.1" cy="423.2" r="2.0" fill="#7f88bf"/>
<circle cx="66.2" cy="437.6" r="2.0" fill="#7f88bf"/>
<circle cx="69.6" cy="422.8" r="2.0" fill="#7f88bf"/>
<circle cx="71.3" cy="410.4" r="2.0" fill="#7f88bf"/>
<circle cx="78.1" cy="451.6" r="2.0" fill="#7f88bf"/>
<circle cx="73.0" cy="417.0" r="2.0" fill="#7f88bf"/>
<circle cx="71.7" cy="443.9" r="2.0" fill="#7f88bf"/>
<circle cx="70.7" cy="425.1" r="2.0" fill="#7f88bf"/>
<circle cx="63.5" cy="431.1" r="2.0" fill="#7f88bf"/>
<circle cx="65.4" cy="433.4" r="2.0" fill="#7f88bf"/>
<circle cx="70.7" cy="428.2" r="2.0" fill="#7f88bf"/>
<circle cx="77.7" cy="446.9" r="2.0" fill="#7f88bf"/>
<circle cx="72.3" cy="406.1" r="2.0" fill="#7f88bf"/>
<circle cx="75.9" cy="444.6" r="2.0" fill="#7f88bf"/>
<circle cx="81.3" cy="450.8" r="2.0" fill="#7f88bf"/>
<circle cx="69.6" cy="432.9" r="2.0" fill="#7f88bf"/>
<circle cx="82.8" cy="449.6" r="2.0" fill="#7f88bf"/>
<circle cx="72.0" cy="444.9" r="2.0" fill="#7f88bf"/>
<circle cx="59" cy="408.5" r="2.0" fill="#7f88bf"/>
<circle cx="65.2" cy="421.5" r="2.0" fill="#7f88bf"/>
<circle cx="65.2" cy="430.8" r="2.0" fill="#7f88bf"/>
<circle cx="69" cy="443" r="2.0" fill="#7f88bf"/>
<circle cx="55.2" cy="442.3" r="2.0" fill="#7f88bf"/>
<line x1="36.5" y1="459.5" x2="243.5" y2="266.5" stroke="#222" stroke-width="1.1" stroke-dasharray="3.2,2.3"/>
<rect x="36.5" y="266.5" width="207.0" height="193.0" fill="none" stroke="#777" stroke-width="0.9"/>
<line x1="78.70" y1="459.5" x2="78.70" y2="461.5" stroke="#555" stroke-width="0.8"/>
<text x="78.70" y="469.6" font-size="7.3" text-anchor="middle" fill="#333" stroke="#333" stroke-width="0.18" style="" >&#8722;0.25</text>
<line x1="34.5" y1="419.30" x2="36.5" y2="419.30" stroke="#555" stroke-width="0.8"/>
<text x="33.0" y="421.90" font-size="7.3" text-anchor="end" fill="#333" stroke="#333" stroke-width="0.18" style="" >&#8722;0.25</text>
<line x1="122.70" y1="459.5" x2="122.70" y2="461.5" stroke="#555" stroke-width="0.8"/>
<text x="122.70" y="469.6" font-size="7.3" text-anchor="middle" fill="#333" stroke="#333" stroke-width="0.18" style="" >0</text>
<line x1="34.5" y1="378.80" x2="36.5" y2="378.80" stroke="#555" stroke-width="0.8"/>
<text x="33.0" y="381.40" font-size="7.3" text-anchor="end" fill="#333" stroke="#333" stroke-width="0.18" style="" >0</text>
<line x1="166.70" y1="459.5" x2="166.70" y2="461.5" stroke="#555" stroke-width="0.8"/>
<text x="166.70" y="469.6" font-size="7.3" text-anchor="middle" fill="#333" stroke="#333" stroke-width="0.18" style="" >0.25</text>
<line x1="34.5" y1="338.30" x2="36.5" y2="338.30" stroke="#555" stroke-width="0.8"/>
<text x="33.0" y="340.90" font-size="7.3" text-anchor="end" fill="#333" stroke="#333" stroke-width="0.18" style="" >0.25</text>
<line x1="210.70" y1="459.5" x2="210.70" y2="461.5" stroke="#555" stroke-width="0.8"/>
<text x="210.70" y="469.6" font-size="7.3" text-anchor="middle" fill="#333" stroke="#333" stroke-width="0.18" style="" >0.50</text>
<line x1="34.5" y1="297.80" x2="36.5" y2="297.80" stroke="#555" stroke-width="0.8"/>
<text x="33.0" y="300.40" font-size="7.3" text-anchor="end" fill="#333" stroke="#333" stroke-width="0.18" style="" >0.50</text>
<text x="140.3" y="481" font-size="7.8" text-anchor="middle" fill="#111" stroke="#111" stroke-width="0.18" style="" >Correlation with <tspan font-style="italic">MPC1</tspan> (<tspan font-style="italic">ρ</tspan>)</text>
<text transform="translate(7.9,361.5) rotate(-90)" font-size="8.5" text-anchor="middle" fill="#111" stroke="#111" stroke-width="0.18">Correlation with <tspan font-style="italic">MPC2</tspan> (<tspan font-style="italic">ρ</tspan>)</text>
<circle cx="38.6" cy="244.20" r="2.2" fill="#854870"/>
<text x="43.6" y="246.20" font-size="7.38" text-anchor="start" fill="#111" stroke="#111" stroke-width="0.18" style="" >Positively correlated with <tspan font-style="italic">MPC1</tspan> and <tspan font-style="italic">MPC2</tspan> (<tspan font-style="italic">n</tspan> = 713 genes)</text>
<circle cx="38.6" cy="252.60" r="2.2" fill="#8c93c2"/>
<text x="43.6" y="254.60" font-size="7.38" text-anchor="start" fill="#111" stroke="#111" stroke-width="0.18" style="" >Negatively correlated with <tspan font-style="italic">MPC1</tspan> and <tspan font-style="italic">MPC2</tspan> (<tspan font-style="italic">n</tspan> = 303 genes)</text>
<circle cx="38.6" cy="261.00" r="2.2" fill="#cdcdcd"/>
<text x="43.6" y="263.00" font-size="7.38" text-anchor="start" fill="#111" stroke="#111" stroke-width="0.18" style="" >Other (<tspan font-style="italic">n</tspan> = 15, 717 genes)</text>
<rect x="404.5" y="239.3" width="108" height="19.099999999999966" fill="#f3f3f3" stroke="#555" stroke-width="0.9"/>
<text x="458.8" y="247.3" font-size="7.3" text-anchor="middle" fill="#111" stroke="#111" stroke-width="0.18" style="" >Genes positively correlated</text>
<text x="458.8" y="255.5" font-size="7.3" text-anchor="middle" fill="#111" stroke="#111" stroke-width="0.18" style="" >with <tspan font-style="italic">MPC1</tspan> and <tspan font-style="italic">MPC2</tspan></text>
<line x1="430.25" y1="258.4" x2="430.25" y2="352.5" stroke="#e6e6e6" stroke-width="0.7" stroke-dasharray="2,2"/>
<line x1="453.10" y1="258.4" x2="453.10" y2="352.5" stroke="#e6e6e6" stroke-width="0.7" stroke-dasharray="2,2"/>
<line x1="475.95" y1="258.4" x2="475.95" y2="352.5" stroke="#e6e6e6" stroke-width="0.7" stroke-dasharray="2,2"/>
<line x1="498.80" y1="258.4" x2="498.80" y2="352.5" stroke="#e6e6e6" stroke-width="0.7" stroke-dasharray="2,2"/>
<rect x="407.4" y="261.00" width="101.68" height="13.3" fill="#7b1f5e"/>
<text x="502.28" y="270.40" font-size="7.3" text-anchor="end" fill="#fff" stroke="#fff" stroke-width="0.18" style="" >72/713 (10%)</text>
<text x="401.9" y="270.40" font-size="7.38" text-anchor="end" fill="#111" stroke="#111" stroke-width="0.18" style="" >(Hallmark) oxidative phosphorylation</text>
<rect x="407.4" y="276.20" width="101.68" height="13.3" fill="#7b1f5e"/>
<text x="502.28" y="285.60" font-size="7.3" text-anchor="end" fill="#fff" stroke="#fff" stroke-width="0.18" style="" >205/713 (29%)</text>
<text x="401.9" y="285.60" font-size="7.38" text-anchor="end" fill="#111" stroke="#111" stroke-width="0.18" style="" >(GO) small molecule metabolic process</text>
<rect x="407.4" y="291.40" width="87.29" height="13.3" fill="#7b1f5e"/>
<text x="487.89" y="300.80" font-size="7.3" text-anchor="end" fill="#fff" stroke="#fff" stroke-width="0.18" style="" >181/713 (25%)</text>
<text x="401.9" y="300.80" font-size="7.38" text-anchor="end" fill="#111" stroke="#111" stroke-width="0.18" style="" >(GO) mitochondrion</text>
<rect x="407.4" y="306.60" width="83.86" height="13.3" fill="#7b1f5e"/>
<text x="484.46" y="316.00" font-size="7.3" text-anchor="end" fill="#fff" stroke="#fff" stroke-width="0.18" style="" >132/713 (19%)</text>
<text x="401.9" y="316.00" font-size="7.38" text-anchor="end" fill="#111" stroke="#111" stroke-width="0.18" style="" >(GO) mitochondrial part</text>
<rect x="407.4" y="321.80" width="76.32" height="13.3" fill="#7b1f5e"/>
<text x="476.92" y="331.20" font-size="7.3" text-anchor="end" fill="#fff" stroke="#fff" stroke-width="0.18" style="" >87/713 (12%)</text>
<text x="401.9" y="331.20" font-size="7.38" text-anchor="end" fill="#111" stroke="#111" stroke-width="0.18" style="" >(Mootha) human mitochondrial genes</text>
<rect x="407.4" y="337.00" width="70.61" height="13.3" fill="#7b1f5e"/>
<text x="471.21" y="346.40" font-size="7.3" text-anchor="end" fill="#fff" stroke="#fff" stroke-width="0.18" style="" >121/713 (17%)</text>
<text x="401.9" y="346.40" font-size="7.38" text-anchor="end" fill="#111" stroke="#111" stroke-width="0.18" style="" >(GO) oxidation reduction process</text>
<line x1="406.5" y1="258.4" x2="406.5" y2="352.5" stroke="#555" stroke-width="0.9"/>
<line x1="406" y1="352.5" x2="513" y2="352.5" stroke="#555" stroke-width="0.9"/>
<line x1="512.5" y1="258.4" x2="512.5" y2="352.5" stroke="#777" stroke-width="0.8"/>
<line x1="407.40" y1="352.5" x2="407.40" y2="354.5" stroke="#555" stroke-width="0.8"/>
<text x="407.40" y="362.6" font-size="7.3" text-anchor="middle" fill="#333" stroke="#333" stroke-width="0.18" style="" >0</text>
<line x1="430.25" y1="352.5" x2="430.25" y2="354.5" stroke="#555" stroke-width="0.8"/>
<text x="430.25" y="362.6" font-size="7.3" text-anchor="middle" fill="#333" stroke="#333" stroke-width="0.18" style="" >10</text>
<line x1="453.10" y1="352.5" x2="453.10" y2="354.5" stroke="#555" stroke-width="0.8"/>
<text x="453.10" y="362.6" font-size="7.3" text-anchor="middle" fill="#333" stroke="#333" stroke-width="0.18" style="" >20</text>
<line x1="475.95" y1="352.5" x2="475.95" y2="354.5" stroke="#555" stroke-width="0.8"/>
<text x="475.95" y="362.6" font-size="7.3" text-anchor="middle" fill="#333" stroke="#333" stroke-width="0.18" style="" >30</text>
<line x1="498.80" y1="352.5" x2="498.80" y2="354.5" stroke="#555" stroke-width="0.8"/>
<text x="498.80" y="362.6" font-size="7.3" text-anchor="middle" fill="#333" stroke="#333" stroke-width="0.18" style="" >40</text>
<rect x="404.5" y="372.8" width="108" height="20.80000000000001" fill="#f3f3f3" stroke="#555" stroke-width="0.9"/>
<text x="458.8" y="380.8" font-size="7.3" text-anchor="middle" fill="#111" stroke="#111" stroke-width="0.18" style="" >Genes negatively correlated</text>
<text x="458.8" y="389.0" font-size="7.3" text-anchor="middle" fill="#111" stroke="#111" stroke-width="0.18" style="" >with <tspan font-style="italic">MPC1</tspan> and <tspan font-style="italic">MPC2</tspan></text>
<line x1="436.00" y1="393.6" x2="436.00" y2="486.5" stroke="#e6e6e6" stroke-width="0.7" stroke-dasharray="2,2"/>
<line x1="464.60" y1="393.6" x2="464.60" y2="486.5" stroke="#e6e6e6" stroke-width="0.7" stroke-dasharray="2,2"/>
<line x1="493.20" y1="393.6" x2="493.20" y2="486.5" stroke="#e6e6e6" stroke-width="0.7" stroke-dasharray="2,2"/>
<rect x="407.4" y="394.80" width="101.63" height="13.3" fill="#7f84bd"/>
<text x="502.23" y="404.20" font-size="7.3" text-anchor="end" fill="#fff" stroke="#fff" stroke-width="0.18" style="" >34/303 (11%)</text>
<text x="401.9" y="404.20" font-size="7.38" text-anchor="end" fill="#111" stroke="#111" stroke-width="0.18" style="" >(Rickman) poorly differentiated tumours</text>
<rect x="407.4" y="410.00" width="87.04" height="13.3" fill="#7f84bd"/>
<text x="487.64" y="419.40" font-size="7.3" text-anchor="end" fill="#fff" stroke="#fff" stroke-width="0.18" style="" >22/303 (7%)</text>
<text x="401.9" y="419.40" font-size="7.38" text-anchor="end" fill="#111" stroke="#111" stroke-width="0.18" style="" >(Elvidge) up-regulated during hypoxia</text>
<rect x="407.4" y="425.20" width="85.42" height="13.3" fill="#7f84bd"/>
<text x="486.02" y="434.60" font-size="7.3" text-anchor="end" fill="#fff" stroke="#fff" stroke-width="0.18" style="" >35/303 (12%)</text>
<text x="401.9" y="434.60" font-size="7.38" text-anchor="end" fill="#111" stroke="#111" stroke-width="0.18" style="" >(Onder) CDH1 targets</text>
<rect x="407.4" y="440.40" width="77.03" height="13.3" fill="#7f84bd"/>
<text x="477.63" y="449.80" font-size="7.3" text-anchor="end" fill="#fff" stroke="#fff" stroke-width="0.18" style="" >45/303 (15%)</text>
<text x="401.9" y="449.80" font-size="7.38" text-anchor="end" fill="#111" stroke="#111" stroke-width="0.18" style="" >(Koinuma) SMAD2/3 targets</text>
<rect x="407.4" y="455.60" width="60.82" height="13.3" fill="#7f84bd"/>
<text x="461.42" y="465.00" font-size="7.3" text-anchor="end" fill="#fff" stroke="#fff" stroke-width="0.18" style="" >29/303 (10%)</text>
<text x="401.9" y="465.00" font-size="7.38" text-anchor="end" fill="#111" stroke="#111" stroke-width="0.18" style="" >(Johnstone) PARVB targets</text>
<rect x="407.4" y="470.80" width="59.11" height="13.3" fill="#7f84bd"/>
<text x="459.71" y="480.20" font-size="7.3" text-anchor="end" fill="#fff" stroke="#fff" stroke-width="0.18" style="" >14/303 (5%)</text>
<text x="401.9" y="480.20" font-size="7.38" text-anchor="end" fill="#111" stroke="#111" stroke-width="0.18" style="" >(Elvidge) HIF1A targets</text>
<line x1="406.5" y1="393.6" x2="406.5" y2="486.5" stroke="#555" stroke-width="0.9"/>
<line x1="406" y1="486.5" x2="513" y2="486.5" stroke="#555" stroke-width="0.9"/>
<line x1="512.5" y1="393.6" x2="512.5" y2="486.5" stroke="#777" stroke-width="0.8"/>
<line x1="407.40" y1="486.5" x2="407.40" y2="488.5" stroke="#555" stroke-width="0.8"/>
<text x="407.40" y="495.6" font-size="7.3" text-anchor="middle" fill="#333" stroke="#333" stroke-width="0.18" style="" >0</text>
<line x1="436.00" y1="486.5" x2="436.00" y2="488.5" stroke="#555" stroke-width="0.8"/>
<text x="436.00" y="495.6" font-size="7.3" text-anchor="middle" fill="#333" stroke="#333" stroke-width="0.18" style="" >3</text>
<line x1="464.60" y1="486.5" x2="464.60" y2="488.5" stroke="#555" stroke-width="0.8"/>
<text x="464.60" y="495.6" font-size="7.3" text-anchor="middle" fill="#333" stroke="#333" stroke-width="0.18" style="" >6</text>
<line x1="493.20" y1="486.5" x2="493.20" y2="488.5" stroke="#555" stroke-width="0.8"/>
<text x="493.20" y="495.6" font-size="7.3" text-anchor="middle" fill="#333" stroke="#333" stroke-width="0.18" style="" >9</text>
<text x="457.2" y="506.5" font-size="7.3" text-anchor="middle" fill="#111" stroke="#111" stroke-width="0.18" style="" >-Log<tspan font-size="5" dy="1.5">10</tspan><tspan dy="-1.5"> adjusted </tspan><tspan font-style="italic">P</tspan> value</text>
</svg>
</body></html>
